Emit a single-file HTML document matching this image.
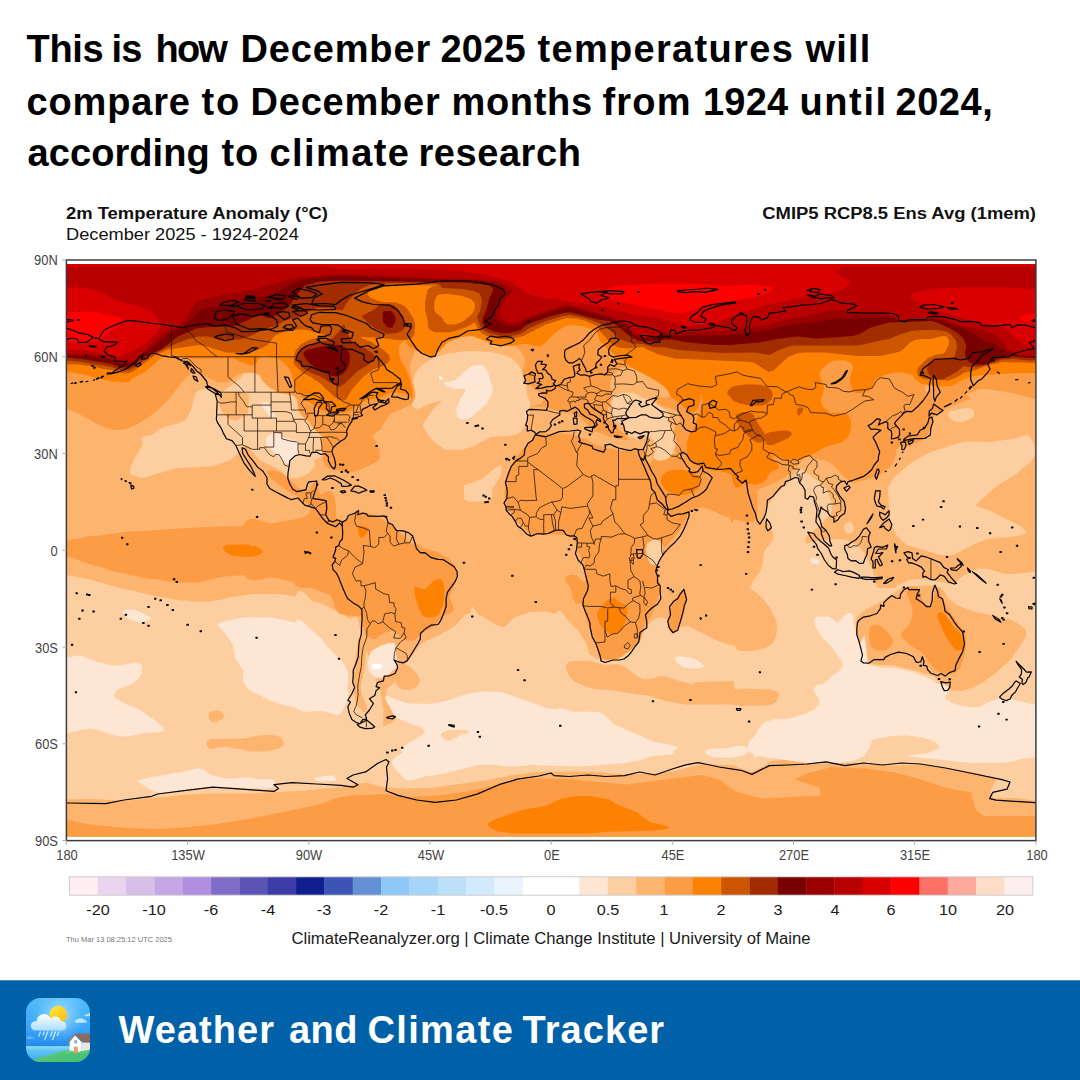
<!DOCTYPE html>
<html><head><meta charset="utf-8"><title>Weather and Climate Tracker</title>
<style>
html,body{margin:0;padding:0;}
body{width:1080px;height:1080px;position:relative;overflow:hidden;background:#fff;font-family:"Liberation Sans",sans-serif;}
.t{position:absolute;white-space:nowrap;}
#title{position:absolute;left:0;top:0;}
.fw{position:absolute;white-space:nowrap;font-weight:bold;font-size:38px;color:#fff;line-height:normal;}
.tw{position:absolute;white-space:nowrap;font-weight:bold;font-size:38px;color:#000;line-height:normal;}
.h1{font-weight:bold;font-size:16px;color:#111;transform:scaleX(1.15);}
.h2{font-size:16px;color:#111;transform:scaleX(1.138);transform-origin:0 50%;}
.ax{font-size:14px;color:#444;}
.cb{font-size:15.3px;color:#1a1a1a;transform:translateX(-50%) scaleX(1.06);}
#foot{position:absolute;left:0;top:980px;width:1080px;height:99px;background:#0060a8;border-top:1px solid #4d8fc2;background-clip:padding-box;}
#foot .ft{position:absolute;left:117.5px;top:27.5px;font-weight:bold;font-size:38px;color:#fff;white-space:nowrap;letter-spacing:0.94px;}
svg{position:absolute;left:0;top:0;}
</style></head><body>
<div id="title"><span class="tw" id="tw0_0" style="left:26.50px;top:27.98px;letter-spacing:-0.300px">This</span><span class="tw" id="tw0_1" style="left:111.50px;top:27.98px;letter-spacing:-0.900px">is</span><span class="tw" id="tw0_2" style="left:155.50px;top:27.98px;letter-spacing:-1.800px">how</span><span class="tw" id="tw0_3" style="left:240.50px;top:27.98px;letter-spacing:0.844px">December</span><span class="tw" id="tw0_4" style="left:440.50px;top:27.98px;letter-spacing:0.234px">2025</span><span class="tw" id="tw0_5" style="left:537.50px;top:27.98px;letter-spacing:1.318px">temperatures</span><span class="tw" id="tw0_6" style="left:805.50px;top:27.98px;letter-spacing:1.167px">will</span><span class="tw" id="tw1_0" style="left:26.50px;top:81.08px;letter-spacing:0.833px">compare</span><span class="tw" id="tw1_1" style="left:201.50px;top:81.08px;letter-spacing:1.900px">to</span><span class="tw" id="tw1_2" style="left:250.50px;top:81.08px;letter-spacing:0.786px">December</span><span class="tw" id="tw1_3" style="left:451.50px;top:81.08px;letter-spacing:0.660px">months</span><span class="tw" id="tw1_4" style="left:602.50px;top:81.08px;letter-spacing:1.167px">from</span><span class="tw" id="tw1_5" style="left:703.00px;top:81.08px;letter-spacing:0.234px">1924</span><span class="tw" id="tw1_6" style="left:799.50px;top:81.08px;letter-spacing:1.600px">until</span><span class="tw" id="tw1_7" style="left:895.50px;top:81.08px;letter-spacing:0.550px">2024,</span><span class="tw" id="tw2_0" style="left:27.50px;top:132.08px;letter-spacing:0.075px">according</span><span class="tw" id="tw2_1" style="left:221.50px;top:132.08px;letter-spacing:0.900px">to</span><span class="tw" id="tw2_2" style="left:269.50px;top:132.08px;letter-spacing:1.399px">climate</span><span class="tw" id="tw2_3" style="left:418.50px;top:132.08px;letter-spacing:0.558px">research</span></div>
<div class="t h1" id="ct1" style="left:66px;top:204.6px;transform-origin:0 50%;">2m Temperature Anomaly (°C)</div>
<div class="t h2" id="ct2" style="left:66px;top:225.9px;">December 2025 - 1924-2024</div>
<div class="t h1" id="ct3" style="right:44px;top:204.6px;transform-origin:100% 50%;">CMIP5 RCP8.5 Ens Avg (1mem)</div>
<div class="t ax" style="right:1022.0px;top:252.4px;transform:scaleX(0.92);transform-origin:100% 50%;">90N</div>
<div class="t ax" style="right:1022.0px;top:349.2px;transform:scaleX(0.92);transform-origin:100% 50%;">60N</div>
<div class="t ax" style="right:1022.0px;top:445.9px;transform:scaleX(0.92);transform-origin:100% 50%;">30N</div>
<div class="t ax" style="right:1022.0px;top:542.7px;transform:scaleX(0.92);transform-origin:100% 50%;">0</div>
<div class="t ax" style="right:1022.0px;top:639.5px;transform:scaleX(0.92);transform-origin:100% 50%;">30S</div>
<div class="t ax" style="right:1022.0px;top:736.2px;transform:scaleX(0.92);transform-origin:100% 50%;">60S</div>
<div class="t ax" style="right:1022.0px;top:833.0px;transform:scaleX(0.92);transform-origin:100% 50%;">90S</div>
<div class="t ax" style="left:67.0px;top:847.0px;transform:translateX(-50%) scaleX(0.92);">180</div>
<div class="t ax" style="left:188.2px;top:847.0px;transform:translateX(-50%) scaleX(0.92);">135W</div>
<div class="t ax" style="left:309.4px;top:847.0px;transform:translateX(-50%) scaleX(0.92);">90W</div>
<div class="t ax" style="left:430.6px;top:847.0px;transform:translateX(-50%) scaleX(0.92);">45W</div>
<div class="t ax" style="left:551.8px;top:847.0px;transform:translateX(-50%) scaleX(0.92);">0E</div>
<div class="t ax" style="left:672.9px;top:847.0px;transform:translateX(-50%) scaleX(0.92);">45E</div>
<div class="t ax" style="left:794.1px;top:847.0px;transform:translateX(-50%) scaleX(0.92);">270E</div>
<div class="t ax" style="left:915.3px;top:847.0px;transform:translateX(-50%) scaleX(0.92);">315E</div>
<div class="t ax" style="left:1036.5px;top:847.0px;transform:translateX(-50%) scaleX(0.92);">180</div>
<div class="t cb" style="left:97.7px;top:900.5px;">-20</div>
<div class="t cb" style="left:154.4px;top:900.5px;">-10</div>
<div class="t cb" style="left:211.1px;top:900.5px;">-6</div>
<div class="t cb" style="left:267.7px;top:900.5px;">-4</div>
<div class="t cb" style="left:324.4px;top:900.5px;">-3</div>
<div class="t cb" style="left:381.1px;top:900.5px;">-2</div>
<div class="t cb" style="left:437.8px;top:900.5px;">-1</div>
<div class="t cb" style="left:494.4px;top:900.5px;">-0.5</div>
<div class="t cb" style="left:551.1px;top:900.5px;">0</div>
<div class="t cb" style="left:607.8px;top:900.5px;">0.5</div>
<div class="t cb" style="left:664.4px;top:900.5px;">1</div>
<div class="t cb" style="left:721.1px;top:900.5px;">2</div>
<div class="t cb" style="left:777.8px;top:900.5px;">3</div>
<div class="t cb" style="left:834.5px;top:900.5px;">4</div>
<div class="t cb" style="left:891.1px;top:900.5px;">6</div>
<div class="t cb" style="left:947.8px;top:900.5px;">10</div>
<div class="t cb" style="left:1004.5px;top:900.5px;">20</div>
<div class="t" id="cred" style="left:551px;top:929.5px;font-size:16px;color:#1a1a1a;transform:translateX(-50%) scaleX(1.04);">ClimateReanalyzer.org | Climate Change Institute | University of Maine</div>
<div class="t" id="stamp" style="left:66px;top:935.4px;font-size:7.5px;color:#777;transform-origin:0 50%;">Thu Mar 13 08:25:12 UTC 2025</div>
<svg width="1080" height="1080" viewBox="0 0 1080 1080">
<defs><clipPath id="mc"><rect x="66.9" y="263.9" width="968.7" height="572.9"/></clipPath></defs>
<g clip-path="url(#mc)">
<rect x="60" y="255" width="990" height="600" fill="#fdb46e"/>
<path fill-rule="evenodd" d="M653 540L649 542L646.5 545.5L646.5 554L648.5 560L651 564L652.5 565L655 565L658.5 563.5L662 558.5L663 546L660 541.5L656.5 540ZM851 522L847 522.5L844 525L845 531.5L847 533.5L851.5 533L854 530.5L853 524.5ZM1057.5 584L1056 580.5L1053 577L1048 573.5L1044 572L1036 571.5L1013.5 574L1005 574L988.5 569L978.5 568.5L973 570.5L961 577L956.5 581.5L953 583.5L948 583.5L930 579.5L918.5 579L908.5 580L897 585.5L895 588L878 588L876.5 585.5L872.5 570.5L867 557.5L864 552.5L857.5 545L846 540L835 539L819 540.5L807 543.5L805.5 542.5L805.5 537.5L820.5 525L830 515.5L832 510L831.5 502L827 490L819 481.5L812.5 477.5L803.5 470L799.5 469.5L795.5 473L788 483L782 488L773.5 497.5L767 507L765 514L765 520L766 522.5L770 526.5L773 532.5L773.5 539L764.5 551L763.5 556.5L762.5 557.5L763 562.5L760.5 571L754 579.5L751 586L749 587.5L758 594L765 601L770.5 609L776 620L777 624L776.5 634.5L773 643L769.5 646L761 649L751.5 651L740.5 651L737 649.5L734 645.5L729.5 645L718 641L688 626L680.5 627L674.5 632.5L672 633L669 630L668.5 624L666.5 619.5L663.5 617.5L658.5 617L656.5 619L652 621L644 628.5L641 639.5L639 642.5L631 650L620.5 657.5L615.5 659.5L608 660.5L602.5 660L596.5 658.5L589 654L587 645L577.5 630L568.5 621.5L563 613.5L559.5 610.5L557.5 611L555.5 614L546.5 611.5L530 612L515.5 617L512.5 619L506.5 625.5L502.5 627L495.5 624.5L482 616L478.5 615L472.5 606.5L471.5 607L470.5 613L465.5 614.5L455 626L440.5 634.5L422.5 643L417 648.5L413 655L404.5 665L408.5 665.5L417 674L419.5 679L420 682.5L416 687.5L410.5 690L402 689.5L398 686.5L396.5 684.5L395.5 680L394 683L388.5 687.5L386 691.5L386.5 695.5L385 698.5L396 718.5L393.5 721.5L389.5 724L383 726.5L383.5 710L380.5 692L376 678.5L381 678L385.5 676L396 668L397.5 664.5L397.5 661L395.5 653.5L396 646L394 643L389.5 643L384 644.5L373 650L368.5 656.5L366.5 651L364.5 669L361 685L361.5 694L367 706L367 710.5L364 712.5L357 705L354 694.5L354 664.5L357 650L358 639.5L359.5 637.5L361.5 637L358.5 620L357.5 617.5L356 616.5L350 619L344 615L339.5 614L335 610L321 603.5L312 601L304 592.5L301.5 591L298.5 591.5L295 597L287 595L277.5 594L253.5 594L228 597.5L222 599.5L208.5 601.5L191.5 601.5L187.5 600.5L180.5 600.5L156.5 596.5L116.5 587L89.5 579.5L70.5 575.5L67 575.5L62 572.5L53.5 563.5L49.5 562L47.5 562.5L45 566.5L43.5 576.5L40 589.5L40 799.5L94 799L123.5 801L187.5 794.5L208 793.5L248 793.5L307 790.5L336 787.5L366 782.5L379.5 786.5L401.5 788.5L430.5 788L485 780.5L510 775.5L537.5 772L576.5 771.5L603 772.5L621.5 774.5L642.5 774L673.5 771.5L699.5 764.5L732 765L751 772L764 766L772.5 760.5L786.5 760L807.5 763L818.5 763.5L849.5 762.5L885.5 765.5L922 765L953.5 769L977.5 773L996.5 779.5L990 791L993.5 798L1017 798L1033.5 800.5L1059.5 800.5L1059.5 735L1052.5 734.5L1051 725.5L1051.5 720L1050.5 714L1046.5 709L1045.5 705.5L1045.5 591L1055.5 587.5ZM284 743L283 745.5L279 748.5L265.5 751.5L251.5 751.5L228 747L222 747L210.5 749L208.5 748L206.5 745L206.5 741.5L210.5 739L244.5 738.5L258.5 735.5L265.5 735L275.5 735.5L280.5 737L282.5 739ZM221 711.5L224 714.5L224.5 716.5L222 719.5L214.5 722.5L211.5 721.5L209 719L208.5 713.5L212.5 711L216.5 710.5ZM566 666L567 663.5L569 662L576 660.5L591 661L604 665L617.5 664L624.5 666.5L638.5 677L645 679.5L651.5 679L659.5 676L664 676L691 684.5L693.5 683L699 682L734 681L734.5 690L745 688.5L771.5 689.5L776.5 691L778.5 693L779 696L775.5 702.5L773 704L766 705.5L739.5 706L734 704.5L684 704.5L665.5 701L648.5 695.5L627 693L614 690.5L595 689L585.5 686.5L575 682L569.5 677L566 668.5ZM856 620.5L857.5 616.5L864 610.5L881 601.5L902 588L909.5 586L934 585.5L941 588L944 591L948 598L956.5 605L975 612L983 613L986.5 614.5L1010.5 619.5L1022 626L1025.5 629.5L1026.5 634.5L1024 640.5L1011 659L996 673L982.5 682.5L972.5 687.5L962.5 691L950 690.5L948 686.5L944.5 684.5L941 684L934 676.5L928 674L921.5 673L918.5 671.5L894 665.5L877.5 665L868.5 663.5L866.5 654L865 637.5L864 636L860.5 643.5L859.5 642.5L856.5 634.5ZM501 464.5L494 469L482 479L465 485L464 486L464 499L469 501.5L482.5 501.5L491 499.5L492.5 497L492 491L493.5 487L500.5 476.5L501.5 472.5ZM1030.5 437.5L1028 435.5L1025 435L1013 439L988.5 442L967 441.5L961 442.5L929.5 452.5L913 461.5L900.5 471.5L892.5 479.5L888 488L889.5 515.5L892 526L896 534.5L902.5 541.5L908.5 545.5L940 555L949.5 555.5L956 553.5L974.5 544L986.5 539.5L998.5 537.5L1011 537L1022.5 534.5L1025.5 533L1026.5 531.5L1020.5 526L990.5 511L977 506.5L976 504.5L997 486L1014.5 475L1031 461.5L1034.5 456L1035 449.5L1034 444ZM974 412L972.5 409L965.5 408L951 411L949 412.5L948.5 416L950.5 419L954.5 421.5L962 422L972 418L974 415.5ZM616.5 394.5L611.5 401L611 413L613 417L617 421.5L623.5 425.5L625.5 428L627.5 433.5L630.5 436.5L637 439L643.5 435L648 435.5L653 439.5L656 445.5L656 450L654 455.5L654 458.5L658 460.5L663 460.5L668.5 458L672.5 453.5L675.5 445L675 435L671.5 427L667.5 421L670 414.5L668.5 412L665.5 409.5L658.5 406L654.5 402L642 397.5L633.5 393L622 392.5ZM322 436.5L314 429.5L308.5 421.5L300.5 414.5L298 408.5L296.5 399L293 395.5L281 393.5L275.5 391.5L268 386.5L263 381.5L259.5 375.5L254 373L247.5 373L243.5 374.5L236 382L222.5 392L215.5 392.5L207.5 389L201 389L195.5 393L190.5 411L187 418L184.5 420.5L181 422.5L166 426.5L158.5 430L152 435L142.5 436.5L141.5 439.5L143 444L134 459L130 469L130 474L133 476L135.5 476L139 477.5L145.5 477.5L174 468.5L213.5 466L229.5 460.5L236 455.5L243.5 445.5L246.5 445L250 447.5L251 450.5L260.5 460.5L276.5 468L288 477L291.5 478L297 478L302.5 476.5L309.5 472.5L315 465.5L314 460L320 457.5L322 455.5L323 450L321 444.5L321 439ZM221.5 393.5L228 392L242 392L249 394L248 413L243.5 417L237 420.5L233.5 420.5L227 417.5L221.5 411L219 404L218 397.5L218.5 396ZM512.5 359L503 354.5L491 352L477 351L460.5 351.5L454 353L449.5 353L436 357L427 361.5L418 369L415.5 373L413 382L415.5 392L415.5 398L411.5 404.5L413.5 407L418 409L434.5 402L439.5 401L441.5 401.5L432.5 410L423 424L423 426.5L430 437.5L435.5 443L445 449.5L461 450L473 446.5L491 437L512 435.5L517.5 434L522 431L527.5 420.5L529.5 413L530 403.5L527 394L526 383L522 375.5L522 371L518.5 365Z" fill="#fdcfa0"/>
<path fill-rule="evenodd" d="M337 779.5L334.5 776L332.5 775.5L324 776L313.5 778.5L316 780.5L320.5 781.5L335 781ZM137 780.5L137 781.5L143.5 785L147 788L157 792.5L170.5 792.5L211.5 787L267 788.5L271 788L274 786.5L275.5 783L274 780L269.5 779L257 779L245.5 777L235 778.5L226 778.5L211 775L203.5 769.5L199.5 768.5L193.5 769L180.5 772.5L176 772.5L159.5 776L153 776.5ZM385 697.5L387 702.5L389.5 705.5L392.5 712.5L396 717.5L413 725L420.5 727L423 728.5L425 731.5L422.5 735L403 746.5L400.5 750L403 752.5L394.5 757.5L392 761L392 764L394 767.5L404.5 779L408.5 780.5L413.5 780L424.5 776.5L442.5 774L478 765L495 765L506.5 766.5L516.5 766.5L530.5 765L579 766.5L625 763L638.5 760.5L653 756L671.5 754.5L674.5 753L673.5 750.5L677 749L678 747.5L674 745.5L654.5 742L614 724.5L605 715L598.5 712L572 711.5L563 708.5L558 708.5L556.5 709.5L548.5 708.5L501.5 692L481.5 691.5L465 694.5L445 701.5L428 704L408 703.5L389.5 697L386.5 695L386 693L386.5 695.5ZM441 736L441 734L442.5 732.5L449.5 730L467 730L469 731.5L467.5 733L460.5 735L449.5 741L445 740ZM674.5 658L677 662.5L682.5 667L690 668.5L697.5 668.5L704.5 667L699.5 661.5L691 657.5L681 656.5L676 657ZM44.5 654.5L42 662L40 678L40 705L41 716L44 725L46 727.5L49 729L53 729.5L54 733.5L56 736.5L60 736L64.5 733.5L88 728.5L97.5 729.5L111 734.5L120 736.5L128.5 736.5L142.5 733.5L160.5 732L163.5 730.5L163.5 728L159 723.5L141 710.5L134 707L127.5 705L114 697L114 695L116.5 690L131 684.5L138.5 679L141.5 674L142 667L140.5 664L135 662.5L120 665.5L112 665.5L97.5 662L82 656L76 655.5L71.5 657L64 657L52.5 652.5L48 652.5ZM67.5 679L67.5 680L58.5 681.5L53 685L50.5 689L48.5 701L45 700.5L41.5 697.5L40 693.5L40 685L41.5 681L44 678.5L50 677L56 677ZM394 643L389.5 643L381.5 645.5L373 650L370 653.5L368 662L368.5 668.5L370.5 673.5L376.5 678L382.5 677.5L389 674L396 668L397.5 664.5L397.5 661L395.5 653.5L396 646ZM218.5 623.5L218 625L219 627L226.5 635L233 645L235 657.5L243.5 671L242.5 681L246 685.5L246 687L248.5 689.5L271.5 701L285 705.5L296 707.5L297 709L304.5 712L319.5 711L327 712L333.5 714.5L337.5 715L339.5 714.5L341.5 712.5L347 702L348.5 696L348.5 692.5L347 688.5L348 683.5L348 673.5L347 670L342 661.5L327 646L322.5 640L301.5 620.5L297.5 619L294.5 622.5L280.5 619L270 617.5L247.5 617L229 620ZM705 752.5L707 755L713 757L730 758L741.5 756L746.5 753.5L748.5 751L749.5 752.5L754 754.5L753.5 757L762 756L767.5 758L772.5 758L807.5 763L844 763L856 760L864 756L869.5 748L872 740.5L873.5 739.5L890.5 736L906 735.5L922.5 737.5L929.5 739.5L936.5 743L939.5 746.5L937.5 749L927.5 753L908 755.5L909 756.5L970.5 763L1005 762.5L1015.5 761L1022.5 758.5L1036 757.5L1045.5 754.5L1050 750L1052 745L1052.5 733.5L1051 725.5L1051.5 720L1050.5 714L1046.5 709L1045.5 703.5L1044 701L1042.5 701L1037 704.5L1033.5 704.5L1010 699L999 699L990 701.5L979 707L968.5 707L958 705L951.5 702.5L945 698L949.5 689L948 686.5L944.5 684.5L936 683.5L930.5 679L913 672L894 668L880.5 667.5L869 665L868 664L864.5 636L863.5 636.5L860.5 643.5L859.5 642.5L853.5 624L853 615.5L851.5 613L848 613L845.5 614.5L838 622.5L836.5 622.5L833 619L828 616.5L817 616.5L814.5 619L814.5 624.5L821 636L830 645L841 659.5L843 666L839.5 671L832 676L824 683.5L817 685L814 688L814 691.5L819.5 700L819.5 702.5L818 705.5L814 709.5L805.5 713.5L793.5 717.5L784 719L775.5 719L766 721.5L762.5 724L758 729.5L756.5 733.5L749.5 741.5L747 748L744.5 746L737 746L729 748L709 749L705.5 750.5ZM122.5 611.5L122.5 613L128 618.5L138.5 622.5L146.5 621.5L151.5 618.5L150.5 617L134 609.5L126 609.5ZM810 559.5L811 563L813 564L818 564L819.5 562L819.5 560L817 558.5L811.5 558ZM267 436.5L266 438L266 443L267.5 446.5L272.5 450.5L284.5 463L287.5 463.5L290 462.5L296 457.5L298.5 453L299 448L298 444L295.5 441L283 437L277 433L273.5 433ZM262.5 402.5L261.5 404.5L264 410L271.5 418.5L274.5 418.5L275.5 416L271.5 409.5L269 403L267.5 401.5ZM439 376L439.5 378.5L442 380L442.5 377.5ZM483.5 366L481 365L475 365L472 366L465 371L456 379.5L451 381.5L444.5 382L443.5 383L445.5 386L455 389L464 389L465 390L465 392L460.5 398.5L456 409.5L458 417L460 419L464 419.5L471.5 417L486 404.5L490.5 397L492.5 392L492.5 387L487.5 371.5Z" fill="#fee6d4"/>
<path fill-rule="evenodd" d="M371.5 667.5L374 669.5L379.5 669L382 666.5L382 665L379.5 664L372 664ZM439 376L439.5 378.5L442 380L442.5 377.5Z" fill="#ffffff"/>
<path fill-rule="evenodd" d="M1059.5 817.5L1039.5 816L983.5 816L975.5 809.5L971 792.5L945 787.5L919.5 779L895.5 772.5L865 768.5L831.5 767L806.5 773.5L794.5 779.5L818.5 787L820 789L820.5 795.5L762.5 798.5L735.5 791.5L719 779.5L701 775L626.5 784.5L566 779L531 778.5L507.5 781.5L482.5 788.5L463.5 792L437 795.5L408 797L382.5 794L352 795.5L334.5 798.5L323.5 803L305.5 807.5L252 818.5L214.5 824.5L184.5 827.5L156.5 829L126.5 828L89.5 824.5L68.5 820L40 820L40 859.5L1059.5 859.5ZM874 624.5L870 627L869 631L869 638.5L871 646L873.5 649L876.5 650.5L885 650.5L888.5 648.5L892.5 644.5L893 640.5L892 638L884 628.5L879.5 625.5ZM684.5 589.5L682 590L677.5 595L672 606L669 619.5L669 628.5L670 631L672 632.5L674.5 632L678.5 628L683 617.5L686.5 601L686.5 594ZM909 588L906.5 590.5L906.5 593L912 607L912.5 612.5L911.5 619L909 625L901.5 633L901 635.5L902 637.5L914 648L920.5 651.5L925 656L930 664L937.5 671.5L945 674L951.5 674L954.5 673L960 668L964 657L966 646L965.5 636.5L964 632L949 610.5L942.5 598.5L939 589.5L937.5 588L935.5 590L932.5 603L930 605.5L926.5 604.5L922.5 600.5L919.5 590.5L917.5 587.5L911 587ZM454 609L450 598L450 595L456 582L456.5 570.5L454 564.5L448.5 558.5L437.5 552L422 547.5L419 544.5L410.5 543.5L394.5 527L388 522L366.5 512.5L357.5 511L353 513.5L345.5 520L341.5 520L337.5 518.5L336 517L336 506.5L334.5 496.5L331.5 491.5L328 491L322 494L320 494L315.5 481L314 482L309.5 490L300 489L282 473L275 470.5L267.5 471L267 473.5L268.5 476L276 482.5L291.5 493.5L296 495.5L309 505.5L310 507.5L309.5 512L306.5 515.5L300 518.5L271 523.5L255.5 519L250 519L247.5 520L245 522.5L243.5 526L205 527L125 532L95.5 536L88.5 536L82 538L67.5 540L46.5 539L44.5 540.5L42.5 544.5L43 553.5L46.5 557L67 556L93.5 565.5L99.5 566.5L112.5 571L149.5 579L155.5 579L165 581L181.5 582.5L199 582.5L224 576.5L244.5 575L247.5 579L253 580.5L259.5 580L268.5 577.5L273.5 577.5L293.5 582L295.5 585.5L298 587L303.5 588L310.5 587.5L331 595.5L334 602.5L335 608.5L339.5 613.5L347.5 615.5L362 616.5L363 626.5L364.5 631.5L367 635.5L372 639L375 639L379.5 635.5L385.5 632.5L393.5 630.5L395 631L402.5 639L408 641L414.5 640.5L421 633.5L434.5 626L443 615L445.5 615L451 613L453 611.5ZM40 240L40 394.5L42.5 400L46 413L49 416.5L54.5 415.5L63.5 409L67 409L74 411.5L104.5 427.5L114 430L122.5 430L129.5 428L139.5 423L154.5 413L169 399L185 378.5L195 370L196.5 370L200 374L218.5 382.5L226 382.5L231 381L235 376L243 372.5L254 372.5L259.5 375L263.5 381.5L271 388.5L281 393L293 395L297 399L298.5 408.5L301 414.5L309 421.5L314.5 429.5L322.5 436.5L321.5 439L321.5 444.5L323.5 449.5L322.5 452.5L322.5 458.5L325 465.5L328.5 468.5L333.5 470.5L339 470.5L344.5 472.5L351 472.5L361 469.5L375.5 462.5L379 459.5L380 457.5L379.5 449L372.5 435.5L380.5 429.5L387.5 417.5L391.5 413.5L410 405L412 403.5L415 398L415 392L410.5 374L410 366.5L411 361.5L415 351.5L416 350.5L430 357.5L433 357.5L448 342L462.5 336.5L472.5 336L489 342.5L504 346L511 346L514.5 345L520.5 350.5L525 358.5L525 362L522.5 370.5L523 377L528 383.5L537.5 390L541 393.5L543 398.5L543 401.5L541.5 403.5L531 406.5L530 407.5L534 406.5L546.5 407.5L560 411.5L569.5 412.5L580.5 418L595 431.5L616.5 438.5L631 440.5L629 439.5L615.5 425.5L612.5 423.5L608 417L607.5 409.5L612.5 398L612 393L610 387L610 382.5L613.5 374L618 369.5L623 367.5L633 368L651.5 378L663 385.5L667 389.5L670.5 396L667 397.5L663 397.5L655 395L657 402L661.5 406L674.5 409.5L678.5 414L680 418.5L679 423L675 427L673.5 430.5L676 438L676 445L674.5 449.5L676.5 453.5L672.5 454L666.5 460L658 461L653.5 458.5L650 463L649.5 467.5L644 456L642.5 451L643 448L632 451L622.5 451L601 446.5L595.5 444.5L582.5 437.5L583 438.5L582 439L579 436.5L573.5 435L562 433.5L538.5 433.5L534.5 434L537 435L528.5 443L515.5 457.5L508.5 470.5L506 479L504.5 491.5L504.5 498.5L506 504.5L517.5 522.5L528.5 532.5L534.5 535L543.5 535L549 534L566 534.5L571 536.5L578 545.5L577 549.5L583.5 562.5L586 571L586 580.5L584 582.5L576.5 575.5L572.5 574.5L566.5 576L565 577.5L565 579.5L570 587L573 598.5L576 603.5L581 603.5L583 606L587.5 623L595.5 641.5L598.5 655.5L600.5 658L606.5 660L615.5 659L620.5 657L631 649.5L638.5 642.5L641 638.5L644.5 626L647 621L650 617.5L656.5 604L660 591L660 583L657.5 574L657.5 566.5L658.5 564L655 565.5L652.5 565.5L649 562L646 554L646 545.5L647 543.5L653 539.5L656.5 539.5L660 541L663.5 546L663 556.5L665.5 551.5L664 549.5L664.5 548L679 532L687 518.5L688 512.5L693.5 511.5L700 507.5L704 507.5L712.5 510.5L721 515L730 517.5L731.5 523.5L734 519L746.5 522.5L753 522L755 520L757.5 513L757.5 491L760 489L778.5 481L785 477L799 464.5L803 459.5L807.5 456.5L810 456.5L814.5 459L822.5 460L828.5 462L833 465L846 478.5L852 482.5L858 482L875.5 477L885.5 471L892 465L895 458L896.5 449.5L898.5 447L911.5 445.5L921.5 440.5L926.5 436L932 427L933.5 418L937 414L949.5 406.5L969 399.5L970.5 397L965 395L978 389.5L985 389L1005 391.5L1051 403.5L1058 403.5L1059.5 402.5L1059.5 240ZM925 391L925.5 385L934.5 386.5L932.5 387.5L929 392L926 392Z" fill="#fc9c45"/>
<path fill-rule="evenodd" d="M487 824L489.5 827.5L498.5 831.5L514 833.5L587 833.5L605.5 832L654.5 830.5L664.5 829.5L670 827.5L665.5 825.5L651 822.5L643 817.5L638 812.5L617.5 804.5L608.5 799L589 796L575.5 796L560.5 799L545.5 806L520 810.5L494.5 819.5ZM939 612.5L937 615L937.5 618L946 637L952 646L956.5 650.5L961 650.5L963 647L963 640.5L960.5 634L951.5 624L944.5 614L941.5 612ZM611.5 597.5L607 600.5L599.5 608.5L597 613L597 616L600 624.5L605 630.5L610 634L617 634L619.5 633L623.5 627.5L627 615.5L627.5 607.5L626 605L619 602L615 598ZM440.5 578.5L434.5 580L425.5 589L424 589.5L414 586.5L414.5 594L418.5 607.5L422 614.5L426 617.5L432.5 617.5L437 615.5L439.5 613.5L442.5 606.5L444 600.5L444.5 589L443 581.5ZM223 546.5L223.5 549.5L227 553L233 556L248.5 557L259.5 555L262.5 552.5L262.5 550.5L260 548.5L255 546L252 546L248.5 544.5L226.5 545ZM359 526L358 527L358.5 534.5L360 537.5L362 538L366 534.5L369 529L365 526.5ZM661 477L661 483L663 487L666.5 490.5L675.5 495L684 495L693 492.5L697.5 489L700.5 484L700.5 479L698.5 475.5L691.5 472L683 470L672 470L665.5 472.5ZM40 240L40 381L41 381.5L47 380L62 372.5L68.5 372L81.5 374L111.5 381.5L127 382.5L129 382L132 378.5L144 372.5L162 357.5L169.5 355L179.5 355.5L193 358.5L232 358L250.5 365.5L254.5 365L257.5 362L260 356L262 355.5L277.5 358.5L284 362.5L290.5 370.5L296 388.5L298.5 393.5L302.5 397.5L316.5 407L326.5 412L336 414L344 412.5L352 409.5L356.5 405.5L367 400L379 398L392 392.5L402.5 393L407 394.5L411.5 398L412.5 397.5L412.5 391.5L409.5 377.5L404.5 366L401.5 362L399 353.5L399 347.5L400 344.5L405 340L406.5 340.5L406.5 343.5L409 346.5L430 357.5L433 357.5L448 342L462.5 336.5L472.5 336L489 342.5L504 346L511 346L522 344L528 344L534.5 346L540.5 346L543 345L549 338.5L559.5 329.5L565.5 326L569 325L582.5 326L596 331L598.5 335L598.5 339L607 348.5L619.5 359L634 369L651.5 378L663 385.5L667 389.5L671 397L679.5 403L688 411L691.5 412.5L695.5 411L698.5 406.5L701 395.5L702 395.5L702.5 402.5L699.5 413.5L694.5 426.5L689 435.5L687 441L687 454L690 459.5L694.5 464L702 468.5L708.5 470L720.5 471L731.5 474.5L733.5 484L735.5 487.5L738 487.5L744 483.5L749 483.5L756 485L763.5 482L766 479.5L770.5 472L777.5 469L779 467.5L777.5 463L772 457L776 456L787.5 460L797.5 459.5L812.5 454.5L820.5 449.5L829.5 445.5L841.5 442.5L847 438L849 435L851 429L851 421L849.5 417L847.5 414.5L844.5 413L831 413L824 408L821 402.5L821 398L823.5 392L824 387L820.5 379L819.5 373.5L821.5 369.5L826.5 364.5L834 360.5L844.5 360.5L850 362.5L852.5 365L853 368.5L850 377L850 382.5L852.5 390L856 393L861.5 393L869.5 390.5L872.5 387L874 381L878 377.5L886 374.5L895.5 372.5L903 372.5L909.5 374.5L912.5 374.5L915 379L921.5 384L938.5 386.5L951 386L964.5 379L976 375.5L1020 373L1041.5 373L1055 380.5L1058.5 381.5L1059.5 381L1059.5 240Z" fill="#fd8204"/>
<path fill-rule="evenodd" d="M736 415L736.5 421L741 428.5L748 436L756.5 442.5L761 442.5L765 440L766 444L768 445L773 445L788.5 438L791.5 435L791.5 432.5L787.5 430.5L781 430.5L768.5 432.5L764.5 434.5L764 432.5L755.5 419.5L753.5 414.5L751 412.5L742.5 412ZM803 407.5L799.5 407.5L797.5 409L797 413L798 415.5L799 415.5L802.5 412L803.5 408.5ZM727.5 391L727.5 394L733.5 401L740 403.5L750 405.5L762 405.5L766.5 404L771.5 399.5L773 395L771.5 390.5L769 388L765 386L757 384.5L745.5 384.5L734.5 386L731 387.5ZM40 240L40 364L77.5 364.5L94.5 366.5L101 368.5L113.5 370.5L118 372.5L127.5 373.5L133 371.5L155.5 355L168 349.5L199 345L205 346L226 352.5L245 353L256.5 350.5L266 346L269 343.5L274.5 336L279.5 333.5L290 330.5L299.5 329.5L307.5 330L326 335.5L310 339.5L300.5 344.5L296 350L294 355.5L293.5 362.5L295 365.5L303 373L310 376.5L321 384L335 397.5L338.5 399.5L343.5 400.5L346.5 399L351.5 390L363.5 376.5L373 369.5L384.5 365.5L389 361.5L390 359.5L389 355L383 349.5L370.5 341.5L361 338L361 337L382 338L396 340L406 340L412 338L414.5 334L415 324.5L413.5 318.5L407.5 309L404 305.5L395.5 302.5L382.5 302L377 300.5L370 297.5L367.5 295L368 292.5L371 289.5L376.5 287L387 285.5L401 285L437 285.5L432 286.5L427.5 290L425 302L425 310L427.5 319.5L428 327.5L430 330L434 332L448.5 332.5L453.5 331.5L465.5 327.5L475 322.5L478.5 330L483 334L487 336L500 339L512.5 339L523.5 336L544.5 325L566 318L576 318.5L584.5 320.5L597 326L599.5 330.5L612 344.5L619 347.5L627 348.5L643.5 347L647 349.5L658.5 354.5L675 358.5L751.5 362L754.5 363L768.5 372L773.5 370.5L788 357L796.5 353.5L805.5 352.5L824.5 352.5L857.5 356L880.5 356L898.5 352L902.5 350L910 342.5L914.5 340L921 339L931 339L942.5 336L947 336.5L949 341L948.5 345L945.5 352L942.5 354L936 354.5L927 358.5L918 368L917 371L918 376L924 379L948.5 380.5L955.5 378L965 372.5L976 370L987 365.5L1003 362L1059.5 363.5L1059.5 240ZM434.5 301.5L436 297L438.5 294.5L447 294L460.5 295.5L471 299L474.5 302.5L475 307.5L472.5 313.5L463 321.5L455.5 324.5L447.5 324.5L444 321.5L442 317.5L435 312L434 307.5Z" fill="#cc5500"/>
<path fill-rule="evenodd" d="M344 323.5L338.5 332L332 338.5L328.5 340.5L316.5 342.5L306 346L302.5 348L296 355.5L296 359L297.5 362L303.5 368.5L314 374.5L317 375L324 378.5L330.5 383L339 387L345 383.5L357.5 371L366.5 366L372 362L375 358.5L374.5 355.5L371.5 352.5L363 347L354 343.5L352 341.5L347 332.5ZM362 316L362.5 317.5L370.5 325L375.5 328.5L387 334L397 333L401.5 331L404.5 328.5L404.5 320.5L402.5 315L395 306L391.5 304.5L382 304.5L378.5 305.5L375 309ZM40 240L40 360.5L67 360.5L82 362L111.5 367L123 370.5L129 370L135.5 366.5L150.5 356L168 347L186.5 339.5L198.5 336.5L206 336.5L227 339.5L239 339.5L243.5 338.5L254 334.5L262.5 329.5L275 326L286 320.5L296 317.5L317.5 307.5L330.5 308L342.5 310.5L346.5 303L355.5 293L360.5 289L368 285.5L378.5 283.5L401 283L437.5 283.5L440 285L442 288L463 289L473.5 291L479.5 293.5L481.5 298L481.5 303.5L480 311L477 317L480 326L484 330.5L488.5 333L501 336L510.5 336L517.5 334.5L524 332L529.5 328L543.5 322L562.5 316L569.5 315L583 317.5L599 323L610 330L617.5 337.5L622 340L632.5 343.5L643.5 344L654 347L666 347.5L678.5 350L722.5 353L754.5 352.5L769.5 355L780 349.5L792 345.5L858.5 345.5L890 338.5L901 334L911.5 331L921 330L937 330L946 331.5L950 333.5L956 340.5L957 348L954.5 357L935.5 359.5L930 363L927.5 366L927 370L928.5 373.5L931 377L936.5 379.5L943 379.5L956.5 372L964 366L968 367L978.5 367L1002.5 359.5L1014.5 359L1029 360.5L1059.5 360.5L1059.5 240Z" fill="#a02c00"/>
<path fill-rule="evenodd" d="M304 352L303.5 355L310 364L321 371L332.5 376L336.5 376.5L342 374.5L346 370.5L349.5 363L350 356L348.5 351.5L345 347.5L339.5 345L331 345L316.5 347.5L307 350ZM384 311L382.5 313L383 321.5L387 327L392 328L395.5 321.5L395.5 317.5L393.5 313.5L391 311ZM40 240L40 357.5L61.5 357L82 359L111.5 364L120.5 367.5L127 367.5L134.5 364L140 359.5L162 349L177 337L196 328.5L209 327L235.5 326L253 317.5L259.5 316L262.5 316L268 318L272 317.5L288 307.5L299.5 291L305 285.5L319.5 281.5L339.5 280.5L465.5 282.5L488.5 285L492.5 287.5L493 291L490 296.5L485.5 312.5L483 317.5L482.5 323L484.5 326.5L487 328.5L493.5 331.5L501.5 333L509 333L516 331.5L521.5 329.5L525.5 325.5L531 323L551.5 316L565.5 312.5L571 312.5L598 319.5L609 321L618 326L627 334L638 340.5L643 341.5L655.5 341.5L664 339.5L673 339.5L684 342L715 345L731.5 345L759 342.5L776.5 339L797 336.5L817 338.5L852.5 336L859.5 334L869.5 328L888.5 322.5L931.5 321L938.5 323L950 328.5L959 334L963 338L966 344.5L966 349L965 351L966 358.5L969 362L973 364L983.5 365L989.5 363L997 359L1007 356L1028.5 358L1059.5 358L1059.5 240Z" fill="#780000"/>
<path fill-rule="evenodd" d="M40 240L40 355.5L73.5 355L79 356L88.5 356L112.5 360L121.5 363.5L129.5 363.5L132.5 362.5L142.5 354L150.5 349L167.5 334.5L183.5 326.5L202 309L231 304L256.5 297.5L267.5 296L275 293L290 284.5L304.5 279L330.5 276.5L353.5 276.5L411 279L477.5 280.5L493 282.5L499 285.5L505 291L500.5 298L496 308.5L495.5 318.5L501 323.5L508 326L517 325.5L529 319L564 307.5L572 307.5L610 318L621.5 323.5L625.5 326.5L633.5 335L639 337.5L644.5 338.5L657 337.5L663.5 334L675 335.5L726.5 335.5L760 331.5L788.5 325L812.5 322.5L835.5 318.5L851 319L860 317.5L887 317L894 318L897.5 320L915 320.5L934.5 318.5L964 329L973.5 333.5L986 342L992 342.5L1004 350L1015 354.5L1023.5 356L1059.5 356L1059.5 240Z" fill="#9a0000"/>
<path fill-rule="evenodd" d="M40 240L40 354.5L91 354.5L108.5 357L121.5 361.5L129 362.5L132 361.5L136 358.5L164 332.5L179.5 326L186 318.5L194.5 304L196.5 302L201 300L226 294L250.5 290.5L288 279.5L303.5 276.5L311.5 276.5L330 274.5L349.5 274.5L436.5 278.5L478 279.5L482 280.5L494.5 281L500.5 282.5L509.5 286.5L512.5 290L512 292.5L504.5 300.5L500 310L500 315L502 318.5L505.5 321.5L509.5 323L518.5 322.5L528.5 317L538 314L541.5 312L563 305.5L569 305L609 316L619 320L625 323.5L628.5 326.5L630.5 330.5L633.5 333.5L641 336.5L649 337L656.5 336L663 331.5L679.5 333.5L685.5 332L725.5 331L747 328.5L755.5 326.5L762.5 326L785 320L807.5 316L827 311L841 310L887.5 314.5L894 316L897 318.5L902 320L921.5 319.5L931.5 317.5L938.5 318L959.5 325L975.5 328.5L993.5 334L1002 341.5L1009 350.5L1015.5 353.5L1024 355.5L1059.5 355.5L1059.5 240Z" fill="#b90000"/>
<path fill-rule="evenodd" d="M1059.5 351.5L1059.5 284.5L1037 289L1009 287.5L958 287.5L938 288.5L920.5 291L912.5 293.5L910 295.5L910.5 297.5L914.5 301L932 310L950 314L970.5 321L1003 327.5L1006 329L1014 337L1023 344L1027.5 346.5L1039.5 348L1052 351.5ZM40 283.5L40 354.5L47 354L64.5 350L78 350L95.5 351.5L111 355.5L120 356L137 349L145.5 343.5L155.5 334.5L160 328L160 324L154.5 314.5L149.5 310.5L140.5 306.5L117 301L100.5 292L91 289L75 287.5L48.5 287ZM40 240L40 267L328.5 267L340.5 269L400.5 268.5L442 269.5L464.5 271L473.5 273L478 273L509.5 281L525 292L533 295.5L548 298.5L553 298.5L578 303L598.5 305.5L632.5 314L657 318L687.5 326L697 325.5L716 322.5L724.5 320L727.5 318L744 312L768.5 304.5L797.5 298.5L824.5 294.5L836.5 291.5L845.5 287.5L850 283L850 281.5L848.5 280L840 276L835 272L835.5 271L838.5 270L841 267L1059.5 267L1059.5 240Z" fill="#d80000"/>
<path fill-rule="evenodd" d="M1059.5 313L1029 314L1021.5 316L1020 317L1020 319.5L1022.5 321L1030 322.5L1046 324L1059.5 324ZM40 343.5L44.5 344L65 341.5L77 342.5L90 342.5L95 341.5L102 338.5L113 329.5L121.5 324L123.5 321.5L122 319L117 316.5L98.5 312.5L86 311.5L60.5 312.5L48 310.5L40 310.5ZM602.5 294.5L608 298.5L621.5 302.5L632 304L653 309L657 309L670 312.5L682.5 313L691 311L708 304.5L732.5 301.5L754 297.5L768 293L772.5 290.5L773.5 289L771.5 287L751.5 284.5L722 286L695.5 283.5L650.5 283.5L614.5 286L605 290L602.5 292.5Z" fill="#ff0000"/>
<path d="M219.1 392.2L294.8 392.2L295.8 391.3L296.4 393.2L300.7 393.5L304.7 395.5L310.1 395.5L313.4 394.5L322.8 399.0L323.6 400.3L326.3 401.9L329.0 404.2L329.5 410.0L329.0 412.9L327.4 414.8L329.0 415.8L333.0 414.2L338.4 412.2L338.4 410.6L339.2 409.7L344.3 409.7L345.7 407.7L349.2 405.1L358.6 405.1L360.5 403.9L361.8 401.0L364.8 397.4L367.2 397.7L368.6 398.7L368.6 402.9L369.6 404.5L370.7 405.5M171.4 325.8L171.4 355.8L176.8 356.8L180.9 360.0L183.5 358.4L187.6 358.4L191.6 361.6L195.7 366.4L201.1 369.7L201.1 372.9M235.8 445.5L242.3 444.8L252.2 449.3L259.8 449.3L259.8 447.7L264.3 447.7L269.7 454.8L273.8 456.8L275.7 454.2L279.2 454.8L283.2 461.6L284.5 465.1L289.4 466.8M302.9 503.5L303.4 501.3L304.2 498.7L307.4 498.4L306.1 494.8L306.1 492.9L310.9 492.9L310.9 499.0M310.9 492.9L313.4 490.6M311.7 499.0L310.7 503.9L308.5 506.1M310.7 503.9L312.8 505.1L314.7 507.1M315.5 508.4L318.2 505.8L322.2 503.5L327.1 501.9M320.4 514.5L325.7 515.1M327.6 523.5L328.7 519.3M176.8 356.8L295.8 356.8M183.5 328.1L191.6 334.2L195.7 340.6L203.7 345.5L210.5 351.9L217.2 356.8M228.0 356.8L228.0 376.8L233.4 381.6L238.8 385.8L242.3 389.7L244.1 392.2M254.9 356.8L254.9 392.2M276.5 356.8L278.1 392.2M294.8 392.2L294.8 380.0L311.5 366.8M337.1 384.2L337.1 397.1L343.8 401.9L350.5 404.2M276.5 356.8L276.5 343.2L249.5 339.0L226.6 331.6L225.3 326.1M377.4 355.8L378.8 361.6L378.8 369.7L370.7 372.9L373.4 382.6L380.1 382.6L397.4 382.6L397.4 384.5M364.8 397.4L369.4 395.5L373.4 395.5M378.8 401.9L378.3 402.6M217.2 401.3L220.4 403.2L225.3 402.9L230.7 401.9L236.1 401.9M216.7 414.8L252.2 414.8M236.1 392.2L236.1 401.9L236.3 403.2L236.1 407.4L236.1 414.8M228.0 414.8L228.0 424.5L242.5 437.4L242.5 444.8M244.1 414.8L244.1 431.0M257.6 418.1L257.6 449.3M244.1 431.0L296.4 431.0M238.8 392.2L238.8 395.5L242.8 400.3L246.8 406.8L252.2 406.8M252.2 405.1L271.1 405.1M252.2 405.1L252.2 418.1L276.5 418.1M271.1 392.2L271.1 418.1M271.1 401.9L291.0 401.9M271.1 411.6L285.9 411.6L291.3 413.2M276.5 421.3L294.5 421.3M276.5 418.1L276.5 431.0M296.4 424.2L296.4 432.6M273.8 431.0L273.8 432.6L281.8 432.6L281.8 438.7L289.9 441.0L296.7 441.9M273.8 432.6L273.8 447.1L264.1 447.1M298.0 442.2L298.0 450.3L298.8 453.5M298.0 443.9L305.5 443.9M296.4 432.6L308.8 432.6L310.1 432.6L331.1 432.2L346.7 432.4M303.4 399.7L301.0 403.5L305.5 410.0L305.5 413.2L308.2 415.5L305.8 419.3L305.0 421.6L308.2 425.1L310.1 430.0L310.9 431.0L310.1 432.6L308.8 437.4L305.5 443.9L305.5 450.3L309.6 450.3L309.6 452.9M289.4 392.2L291.0 401.9L291.3 410.0M291.3 410.0L305.5 410.0M293.2 419.3L305.0 419.3M291.3 413.2L292.9 417.4L293.2 419.3L294.5 421.3L296.4 424.2M307.2 413.2L314.7 413.2M315.5 415.8L315.5 423.5L314.2 428.1M310.9 431.0L314.2 428.1L315.5 428.1L319.5 427.7L322.8 424.2L327.6 425.5L329.0 426.4L333.0 422.9L334.4 419.3M322.8 415.8L322.8 424.2M316.9 415.6L326.5 415.7M334.4 414.5L334.4 422.2L347.0 422.2M336.2 414.8L348.4 414.8L350.0 416.8L348.9 419.0L349.2 421.6L347.8 422.6M337.1 423.9L341.9 423.5L343.8 426.1L345.7 427.7M329.0 426.4L331.1 430.0L334.9 429.3L340.3 423.2L341.9 423.5M324.1 437.4L329.5 436.8L333.0 437.1L333.6 438.1L336.5 438.1L339.7 441.0M308.0 437.4L324.1 437.4M313.6 437.4L313.1 447.4L313.1 452.9M320.6 437.4L321.7 444.5L322.2 450.3M315.2 450.3L322.2 450.3L322.5 451.3L329.8 451.9L331.7 451.3M326.8 437.4L329.8 441.6L333.0 446.8M353.7 405.1L353.7 412.6L353.2 418.1M358.6 405.1L355.9 412.6M353.7 412.6L359.9 412.2M353.2 414.8L358.9 414.8M359.9 404.2L360.8 411.3M355.9 513.2L354.6 521.3L356.4 526.1L362.6 527.7L369.4 530.3L369.9 539.0L370.7 546.4M388.2 522.9L386.9 527.7L386.3 531.3L387.7 533.5M370.7 546.4L374.8 547.7L378.8 544.2L378.8 537.4L384.2 537.4L387.7 533.5M387.7 533.5L390.1 535.8L390.1 542.2L393.6 546.1L399.0 544.2M397.1 530.9L396.3 539.0L399.0 544.2L404.4 542.9M405.7 531.6L405.2 539.0L404.4 542.9L409.8 542.9L412.2 536.8M370.7 546.4L363.2 545.5L364.0 551.9L362.6 563.8M362.6 563.8L355.1 557.7L348.4 550.6L343.8 549.0L338.9 545.8M348.4 550.6L347.8 555.1L341.6 560.0L339.7 565.5L334.9 561.3M362.6 563.8L355.1 567.1L352.4 573.8L355.9 580.9L361.0 580.9L361.0 585.8L364.0 585.8M364.0 585.8L365.9 590.6L365.3 598.0L364.0 602.6L364.0 606.7L361.8 609.3M364.0 585.8L368.0 584.8L375.3 582.6L375.6 589.0L384.2 593.8L388.8 594.8L389.6 602.6L394.1 602.9L394.1 606.1L396.0 608.4L395.0 614.2M395.0 614.2L391.7 612.6L384.7 613.8L382.8 621.9M382.8 621.9L378.0 623.8L375.6 621.6L372.6 620.6L370.2 623.8M370.2 623.8L367.5 619.6L366.7 613.2L364.0 606.7M370.2 623.8L366.9 629.3L366.7 637.4L363.2 647.1L361.8 656.7L361.3 666.4L359.4 676.1L357.8 685.8L358.1 695.5L356.4 705.1L353.7 711.6L356.4 714.8L362.6 718.0M395.0 614.2L395.5 621.6L401.1 622.6L402.0 627.7L404.9 628.0L404.1 632.9M382.8 621.9L389.6 627.7L395.8 631.9L393.6 638.0L400.3 638.4L404.1 632.9M404.1 632.9L406.3 638.0L400.9 641.6L396.0 647.7M396.0 647.7L400.6 650.3L405.7 653.2L407.3 655.8L407.3 659.0M396.0 647.7L394.4 653.5L393.9 660.0M366.4 720.0L366.4 727.4M545.8 437.1L546.3 445.5L541.5 448.0L537.7 453.5L527.7 457.7L527.7 462.2M527.7 461.0L516.1 461.0M527.7 462.2L527.7 466.4L518.8 466.4L518.8 474.8L516.1 476.1L516.1 481.6L505.4 481.6M527.7 462.2L538.2 469.7L533.6 469.7L536.1 497.1L536.9 500.3L525.6 500.6L520.2 500.3L518.3 502.6M518.3 502.6L513.4 496.8L506.7 498.7M538.2 469.7L554.4 482.2L559.8 486.4L562.5 488.7M562.5 488.7L567.3 486.4L583.2 474.5M583.2 474.5L576.7 465.5L577.8 453.5L576.7 452.9M576.7 452.9L573.5 445.5L571.3 441.3L573.2 437.4L574.3 431.3M576.7 452.9L578.9 448.0L582.1 443.2M618.5 448.0L618.5 485.8L615.8 485.8L615.8 487.4L594.0 474.8L591.5 476.1L589.4 477.4L583.2 474.5M618.5 479.3L650.5 479.3M591.5 476.1L592.9 482.6L592.9 495.8L587.5 503.5L587.5 506.1M587.5 506.1L578.1 507.4L570.0 508.4L561.9 506.8L560.8 512.6M562.5 488.7L562.5 497.1L560.6 500.3L553.8 501.9L551.7 501.9M551.7 501.9L557.1 510.0L560.8 512.6M551.7 501.9L545.8 504.5L539.6 507.7L536.3 513.2L536.3 516.8M536.3 516.8L529.6 517.4L527.7 514.8L520.4 510.3L518.3 502.6M543.9 533.8L543.6 525.1L543.9 519.7L543.6 514.8L551.2 514.5M554.4 530.6L552.5 522.9L551.2 514.5L553.6 514.8M558.4 529.7L558.7 521.3L560.8 512.6M555.5 530.3L555.5 521.3L553.6 514.8L557.1 510.0M536.3 516.8L539.0 519.0L543.9 519.7M531.0 536.1L528.5 529.3L528.5 525.8L525.8 526.4L523.4 522.9L520.2 527.7M515.3 521.3L517.5 518.4L521.0 518.0L522.6 520.9L523.4 522.9M529.6 517.4L528.5 525.8M514.3 509.3L520.4 510.3M510.8 514.8L514.3 512.6L514.3 509.3L506.2 510.3M505.9 506.4L513.4 506.4L513.4 507.7L505.9 508.0M574.0 535.8L576.7 529.3L582.1 528.4L586.2 519.7L589.4 513.9L589.4 510.0L587.5 506.1M589.4 510.0L592.9 518.0L588.9 518.0L592.9 526.1M592.9 526.1L601.2 524.2L602.3 521.3L611.7 514.8L612.8 513.5M615.8 487.4L615.8 499.7L612.8 499.7L610.4 508.4L612.8 513.5M654.8 492.2L650.8 495.5L649.4 504.2L648.6 509.3L643.3 515.5L643.3 522.9L640.0 524.8L646.2 532.9L647.8 535.5M649.4 504.2L656.2 502.9L661.6 506.8L665.3 510.0M665.3 510.0L663.7 514.8L667.0 514.8L667.5 513.2M667.0 514.8L667.0 519.7L672.3 522.9L680.4 524.5L672.3 534.2L664.3 536.8L661.6 537.7M647.8 535.5L653.5 538.7L657.5 539.0L661.6 537.7M661.6 537.7L661.6 550.3L662.9 555.8M642.7 536.8L644.1 546.8L642.7 549.7L642.7 553.5M642.7 553.5L652.4 560.0L656.7 565.5M634.6 538.4L634.4 542.9L631.1 547.7L630.9 554.8M634.6 538.4L642.7 536.8L647.8 535.5M601.2 539.0L601.2 536.4L611.7 537.1L618.5 534.2L624.9 533.8M624.9 533.8L630.6 536.1L634.6 538.4M612.8 513.5L615.0 522.2L619.0 526.1L624.9 533.8M584.0 569.0L586.2 565.1L589.9 566.1L594.0 563.2L594.8 557.4L598.8 551.9L599.6 543.8L601.2 539.0M592.9 526.1L590.2 530.9L591.5 537.4L594.2 543.2M577.5 542.9L587.0 543.2L594.2 543.2L594.2 544.8M581.0 562.9L582.9 558.0L584.8 557.4L588.9 558.0L589.9 554.5L588.6 550.3L589.9 547.1L587.0 546.4L587.0 543.2M594.2 543.2L595.6 539.0L601.2 539.0M577.5 547.1L581.6 547.1L581.6 543.2M584.0 569.0L586.2 569.3L595.9 569.3L596.9 573.8L603.4 576.1L609.9 573.8L609.9 580.9L610.9 586.4L615.8 585.8L615.8 592.2M615.8 592.2L610.4 592.2L610.4 602.6L614.2 607.1M582.9 605.8L588.9 606.4L601.0 606.4L607.7 608.0L614.2 607.1L619.0 607.7M607.7 609.3L607.7 621.3L605.0 621.3L605.0 630.3L605.0 641.9L596.9 642.9L595.6 642.6M605.0 630.3L607.2 637.1L612.0 634.2L617.7 633.2L620.9 630.0L623.9 626.4L630.3 621.9M619.0 607.7L621.2 613.2L625.7 616.4L630.3 621.9L635.4 622.6M619.0 607.7L623.9 608.0L628.7 603.5L633.0 600.6M633.0 600.6L639.8 604.2L640.0 611.6L638.7 618.0L635.4 622.6M635.4 622.6L637.3 629.3L637.3 636.7L639.8 637.1M634.6 633.8L637.3 634.2L637.3 638.0L634.6 638.0L634.1 635.8L634.6 633.8M624.1 645.8L627.9 642.6L630.3 645.1L627.9 649.0L624.7 648.0L624.1 645.8M615.8 585.8L621.2 588.7L625.2 589.7L629.2 593.5L631.4 593.5L631.4 589.7L627.9 588.4L627.9 580.3L634.1 576.7M634.1 576.7L639.8 580.6M639.8 580.6L640.8 585.8L639.8 593.8L640.6 595.5L632.5 598.0L633.0 600.6M640.6 595.5L644.1 597.1L647.6 601.9L646.2 605.5L643.8 602.9L644.1 597.1M642.7 580.9L644.3 587.4L645.1 593.8L644.1 596.4M645.1 587.4L652.1 588.0L659.9 584.2M630.1 560.9L630.3 564.8L630.9 570.6L634.1 576.7M630.9 554.8L633.3 553.8L634.1 558.0L633.3 560.0L630.1 560.9L629.2 559.0L630.9 554.8M633.3 553.8L642.7 553.5M634.1 558.0L631.9 558.0L630.1 560.9L633.3 564.5L633.3 560.0M527.5 415.1L533.6 415.1L532.6 420.6L532.3 422.2L531.0 430.3M546.3 410.3L553.0 412.2L559.8 413.5M571.3 409.0L570.0 404.8L569.7 402.2M569.7 402.2L567.6 401.3L569.7 397.4L571.6 396.8M571.6 396.8L573.2 392.2L568.4 390.6M568.4 390.6L564.1 389.0L558.2 385.5M560.3 384.5L567.0 385.8L567.3 386.4M567.3 386.4L567.3 382.9L570.3 381.9L570.5 378.4M567.3 386.4L568.4 390.6M571.6 396.8L577.0 397.1L579.4 399.0L579.2 400.3L576.2 400.6L575.4 402.2L573.8 401.0L570.0 402.2M579.2 399.3L584.0 398.7L588.0 400.3L588.0 403.2M577.0 397.1L586.2 397.1L585.6 394.8L588.3 392.9M588.3 392.9L583.7 388.1L591.0 385.8M591.0 385.8L589.4 376.4M574.3 373.2L577.8 373.5M591.0 385.8L596.7 387.7L601.8 390.6L612.0 391.9M588.3 392.9L591.5 392.2L596.9 393.5L596.7 395.5M596.9 395.5L594.5 399.0M596.9 395.5L601.8 396.1L606.4 393.9L610.9 394.2M596.9 393.5L601.8 390.6M594.5 399.0L595.9 400.6L601.8 402.2L605.8 401.6L612.8 395.5M612.8 395.5L618.2 396.4L622.8 394.5L627.1 403.5L631.1 404.2M612.3 407.7L618.5 409.3L623.9 408.1L628.2 409.3M605.8 401.6L608.8 404.5L612.3 407.7M612.3 407.7L611.5 413.9L613.1 417.1L617.1 416.4L622.2 415.8M622.2 415.8L626.6 414.8M622.2 415.8L621.2 419.0M605.0 422.2L607.7 418.7L613.1 417.1M603.4 415.1L606.4 414.2L606.6 418.1L607.7 418.7M588.0 403.5L592.4 403.5L595.9 400.6M593.7 404.5L602.3 405.5L603.4 410.0L601.0 413.2L594.8 408.4L593.7 404.5M602.3 405.5L602.6 402.2M603.4 410.0L606.4 411.6L606.4 414.2M606.4 411.6L611.5 413.9M604.5 374.8L612.6 374.8M612.6 374.8L614.4 376.4L615.5 380.3L614.7 384.2L615.8 387.4L612.0 391.9L610.9 394.2M607.7 369.3L615.8 368.7L622.8 370.6M614.4 376.4L620.6 375.5L622.8 370.6M616.6 363.5L624.9 364.8M622.8 370.6L627.1 369.0L625.7 365.5L624.9 364.8L625.2 360.3L626.6 358.4M627.1 369.0L634.4 371.0L636.8 376.8L636.8 382.2M614.7 384.2L623.9 383.9L633.3 384.8L636.8 382.2M636.8 382.2L642.7 381.6L647.0 387.7L653.5 389.3L658.9 390.3L658.3 395.8L654.0 398.4M622.8 394.5L627.1 395.2L629.8 397.1L631.9 400.6L627.1 403.5M612.6 374.8L612.3 372.9L608.2 371.9M581.9 360.0L584.8 352.6L583.7 345.5L589.7 340.0L595.3 332.6L599.9 329.3L606.4 327.4M606.4 327.4L615.0 331.3L615.8 338.1M606.4 327.4L620.4 327.1L626.3 324.2L629.2 327.4M629.2 327.4L627.9 330.3L631.9 331.9L629.5 334.5L632.2 338.4L631.1 341.3L633.3 343.2L636.0 347.4L626.0 354.8M629.2 327.4L634.1 325.2M531.5 372.6L529.3 374.5L534.2 375.8M658.9 410.3L667.0 412.6L676.4 415.1L681.8 415.5M663.2 416.4L668.3 417.7L672.3 417.1L676.4 415.1M668.3 417.7L668.8 421.0L671.8 422.2L670.5 426.4L671.8 430.3M672.3 417.1L676.4 424.8L680.4 422.9L682.8 426.4M671.8 422.2L676.4 424.8M648.1 434.8L650.0 431.6L653.5 431.6L661.0 430.6L665.3 430.6L671.8 430.3M671.8 430.3L675.0 434.8L673.7 440.6L679.9 447.7L681.8 453.5M665.3 430.6L662.1 438.1L655.6 442.6M655.6 442.6L650.3 446.1L647.3 444.8M645.7 443.5L647.8 442.6L649.7 440.0L648.1 438.7M655.6 442.6L656.7 446.8L650.8 448.7L653.5 451.9L652.1 453.5L648.1 456.1L645.4 455.5M647.3 444.8L646.8 449.0L645.4 455.1M643.3 449.3L645.1 455.1M656.7 446.8L659.9 447.4L664.5 450.0L671.5 456.1L676.4 456.4L679.1 453.5L680.4 453.5M676.4 456.4L679.6 458.4L681.5 458.4M666.4 497.4L667.5 494.2L670.7 494.2L676.1 494.8L679.1 495.5L683.4 490.3L691.2 489.0L699.3 485.8L701.2 479.3L699.8 477.1L692.8 476.4L690.1 472.2M691.2 489.0L694.2 496.8M699.8 477.1L702.0 472.6L702.8 469.7M688.0 470.6L689.0 471.0M696.3 430.0L700.3 427.4L705.2 426.8L710.8 429.3L716.0 432.2M716.0 432.2L714.3 439.7L715.2 448.7L717.6 449.0L715.2 453.9M715.2 453.9L717.3 457.7L721.4 462.6L721.4 464.5L717.0 469.0M715.2 453.9L719.5 455.5L729.7 453.9L730.8 449.7L737.8 447.4L740.5 442.6L742.6 440.3L744.0 433.2L749.1 431.3L752.9 430.3M716.0 435.5L720.8 434.5L724.9 433.2L730.2 429.7L734.3 431.0L738.3 429.0L739.7 426.1L743.7 427.7L744.0 431.9L749.1 429.7L752.9 430.3M692.5 415.5L696.6 413.9L702.0 417.1L702.0 405.1L709.0 403.5L715.4 407.1L718.1 410.0L725.9 409.3L729.2 411.6L730.2 417.4L734.5 418.7L737.0 416.8L742.4 413.9M702.0 417.1L704.9 417.1L709.0 412.2L712.7 414.2L712.7 417.4L717.9 417.7L719.5 421.3L725.1 424.8L730.2 429.7M742.4 413.9L749.1 411.6L751.2 411.0L755.3 411.9L764.4 412.2L767.1 414.2M767.1 414.2L767.4 405.1L773.3 404.5L774.7 398.1L781.4 398.4L781.9 394.2L786.3 391.9M786.3 391.9L780.6 389.0L777.4 386.8L766.9 386.4L760.7 378.4L748.8 376.4L742.9 375.2L737.0 371.9L727.5 374.2L715.4 376.4L716.8 384.8L711.4 387.1L699.3 386.1L689.8 384.2L688.0 383.5L681.8 387.1L677.5 389.3L676.4 394.2L680.4 396.1L683.1 400.3M767.1 414.2L761.2 418.1L758.0 418.4L750.4 421.3L749.4 422.9L752.9 430.3M734.3 431.0L734.3 424.8L737.8 420.6L741.0 420.6L742.4 420.6L749.4 422.9M737.0 416.8L741.0 420.6M786.3 391.9L792.7 389.3L798.9 386.8L805.9 389.0L812.9 389.7L815.9 387.4L815.3 382.6L826.1 384.5L826.6 387.1L838.0 388.1L843.3 391.3L849.3 391.9L855.5 390.3L865.4 389.7M787.6 391.9L789.5 394.5L793.5 395.8L795.9 404.5L803.0 405.5L808.1 407.7L810.8 412.6L825.3 413.2L833.9 416.1L846.0 413.2L852.5 409.3L857.1 406.1L864.9 401.0L873.8 399.7L868.4 396.4L862.5 395.8L865.4 389.7M865.4 389.7L872.2 388.1L876.5 380.6L880.5 377.7L889.4 379.0L894.5 388.1L902.9 392.6L908.0 396.4L913.9 394.5L909.6 404.8L906.1 404.2L903.9 405.5L904.7 410.3L902.9 413.5M902.9 413.5L900.7 411.6L895.9 414.8L892.9 415.5L885.9 421.6M890.7 428.7L896.9 425.8M734.8 473.9L742.4 471.0L739.7 464.8L740.5 460.0L747.2 456.8L751.8 450.3L751.8 444.5L749.9 439.7L758.0 435.5L760.7 435.8M752.9 430.3L755.8 434.2L760.7 435.8L763.9 439.7L763.4 445.5L763.1 449.3L769.3 452.9M766.9 457.4L769.3 452.9L773.3 453.5L777.4 456.8L782.8 460.0L788.4 460.3L788.4 465.1L782.2 464.5L777.4 461.9L772.0 460.3L766.9 457.4M790.6 462.2L792.7 459.3L797.8 460.3L798.9 463.5L793.3 464.2L790.6 462.2M788.4 460.3L790.6 462.2M797.8 460.3L804.3 456.8L810.0 455.5L813.2 459.3M813.2 459.3L807.5 466.1L804.6 473.2L802.4 472.9L801.9 478.7L800.5 481.3L799.7 483.2M788.4 465.1L793.0 466.4L793.0 468.7L799.7 469.3L797.0 472.9L797.0 475.8L799.7 474.5L800.5 481.3M789.5 465.5L788.4 469.0L788.4 471.0L790.3 471.9L790.0 475.1L790.8 479.7M813.2 459.3L817.0 461.6L817.0 467.1L814.0 470.6L814.0 473.2L817.8 475.8L819.1 476.4L818.3 479.0L820.5 481.0L823.7 481.9M823.7 481.9L820.7 484.8L815.1 486.8L813.5 490.6L816.7 497.4L815.6 501.6L818.3 507.7L819.4 512.2L817.0 517.4M820.7 484.8L821.8 487.4L823.7 487.4L823.1 493.2L826.1 491.6L829.3 490.9L833.1 494.2L833.4 497.7L835.5 500.0L835.3 503.9M835.3 503.9L828.5 504.2L827.2 506.4L828.3 512.6M826.4 478.0L828.5 483.2L832.8 484.5L831.5 487.1L834.5 490.0L838.0 495.5L840.9 501.3L840.7 502.9M823.7 481.9L826.4 478.0L831.0 477.4L834.7 475.1L838.5 476.8L838.2 479.3L842.0 481.0M835.3 503.9L840.7 502.9L840.9 510.6L836.1 512.9L837.2 515.5L832.6 516.8M820.7 529.3L823.4 531.9L826.1 530.3M846.3 543.8L848.7 547.4L852.2 547.1L853.3 545.5L857.4 546.1L860.6 542.9L862.2 538.7L862.2 536.4L867.6 536.8M930.9 558.7L930.9 579.7M885.4 580.6L887.8 580.3L888.1 579.7" fill="none" stroke="#1a1005" stroke-width="0.75" stroke-linejoin="round"/>
<path d="M98.7 338.7L104.1 330.0L112.2 326.1L123.0 321.9L129.7 320.3L141.8 321.9L152.6 323.5L163.4 324.5L171.4 325.8L182.2 327.7L187.6 326.4L198.4 324.5L206.4 323.5L214.5 326.1L225.3 325.2L236.1 328.1L241.4 331.6L254.9 331.3L260.3 330.3L268.4 329.3L276.5 331.6L287.2 330.0L292.6 330.3L296.7 326.1L292.6 319.7L298.0 318.1L302.0 322.9L306.1 326.1L311.5 327.7L314.2 331.0L319.5 332.6L320.9 326.1L330.3 325.5L331.7 329.3L330.3 334.2L324.9 336.4L318.2 336.4L319.5 342.3L314.2 343.9L307.4 345.5L302.0 348.7L298.0 353.5L295.8 360.0L300.7 361.6L302.0 366.4L308.8 366.4L314.2 368.1L322.2 371.3L329.0 372.2L330.3 379.3L334.4 384.2L338.4 384.2L338.4 376.1L337.1 372.9L343.8 369.7L345.1 364.8L341.1 361.0L341.1 355.2L342.4 349.0L351.9 349.3L359.9 352.9L364.0 354.2L364.0 360.0L368.0 362.6L373.4 360.6L376.1 355.8L378.8 358.4L384.2 364.8L386.9 369.7L392.3 372.9L396.3 376.1L400.3 379.3L400.9 382.6L397.6 384.2L392.3 388.1L384.2 388.4L376.1 388.4L370.7 391.3L365.3 395.5L359.9 399.0L364.0 397.7L372.1 392.2L378.0 392.6L376.1 395.5L377.4 398.7L378.8 401.9L385.5 402.9L386.9 404.2L381.5 406.1L374.8 410.0L372.9 407.7L377.4 403.5L370.7 405.1L366.7 407.4L362.6 409.3L360.8 413.2L362.6 415.5L358.6 416.8L352.4 418.7L351.9 421.3L349.2 425.1L346.5 431.0L347.3 434.8L345.1 438.4L341.1 441.0L337.1 443.9L333.0 447.7L331.9 451.9L334.4 458.4L335.7 464.8L334.4 469.0L331.7 467.1L328.4 461.0L328.4 456.8L324.9 453.5L320.9 454.5L316.9 452.2L311.5 452.6L310.1 456.1L306.1 455.8L299.3 454.5L295.3 455.8L289.9 460.6L289.1 466.4L288.0 472.9L287.8 478.4L289.9 484.2L292.6 489.0L296.7 491.6L302.0 490.6L306.1 489.7L307.4 484.2L308.8 481.9L316.9 481.0L316.9 485.8L314.7 492.2L312.8 498.7L319.5 499.3L326.3 500.9L326.8 508.4L325.7 514.8L329.0 520.6L333.0 521.9L337.1 519.7L342.4 522.2L342.4 526.1L339.7 522.9L335.7 526.8L331.7 525.1L327.6 523.5L322.2 518.0L320.1 514.8L315.5 508.4L311.5 507.1L304.7 505.1L298.0 498.0L291.3 499.7L284.5 496.4L276.5 492.2L269.7 488.4L267.0 484.2L267.0 477.7L263.0 471.3L257.6 467.1L253.6 461.6L248.2 455.1L245.5 449.3L242.0 447.7L242.8 453.5L246.8 460.0L250.9 466.4L254.1 472.9L255.2 476.4L249.5 470.3L244.1 463.2L241.4 457.4L238.8 451.9L235.8 445.5L232.0 440.6L226.4 438.7L223.1 432.6L221.3 428.4L217.7 422.9L216.4 419.7L216.7 411.6L217.2 401.3L215.3 394.2L219.9 394.8L221.3 397.4L221.0 392.9L219.9 392.2L214.5 389.0L207.8 385.8L206.4 381.0L201.1 374.5L197.0 371.3L193.0 366.4L187.6 361.6L182.2 361.0L175.5 357.4L168.7 356.8L162.0 355.8L155.3 353.5L149.9 353.5L147.2 358.4L141.8 359.3L143.2 354.2L137.8 358.4L136.4 362.3L129.7 366.4L124.3 369.7L117.6 372.2L110.8 373.9L116.2 369.7L124.3 364.8L127.0 361.0L123.0 361.6L114.9 361.0L114.9 356.8L108.1 355.2L104.1 351.0L106.8 347.1L113.5 345.5L117.6 342.3L112.2 341.9L104.1 341.9L98.7 338.7M354.6 298.1L368.0 291.3L384.2 285.8L416.5 284.2L443.4 281.0L470.4 281.0L491.9 284.8L502.7 289.0L505.4 293.9L500.0 298.7L498.6 305.2L494.6 310.0L491.9 316.4L485.2 321.3L490.6 323.9L481.1 329.3L467.7 331.0L459.6 335.8L448.8 338.4L442.1 342.3L438.0 348.7L435.3 356.1L430.0 356.8L421.9 353.5L416.5 348.7L411.1 340.6L407.1 334.2L411.1 327.7L404.4 322.9L403.0 318.1L397.6 310.0L389.6 305.2L373.4 304.5L362.6 301.9L354.6 298.1M486.5 339.0L490.6 336.1L497.3 337.4L505.4 336.4L511.3 337.4L514.5 340.6L510.8 342.9L501.3 345.8L494.6 344.5L490.0 343.9L491.9 341.3L486.5 339.0M342.4 522.2L346.5 519.7L348.4 515.5L354.6 513.2L358.6 510.6L357.8 514.8L362.6 513.2L366.7 514.2L368.0 516.1L373.4 516.1L378.8 516.4L384.2 515.8L386.9 518.7L388.2 522.9L392.3 524.5L396.3 530.3L403.0 530.9L408.4 532.6L412.5 535.8L415.2 543.8L416.5 548.7L420.5 552.9L424.6 552.6L431.3 557.7L438.0 559.3L443.4 559.7L448.8 563.2L454.2 566.8L456.9 571.3L457.4 576.1L455.5 580.9L451.5 586.7L447.5 592.2L446.1 598.7L446.1 606.7L443.4 614.2L440.7 620.6L438.0 624.5L431.3 625.1L425.9 628.4L420.5 633.5L420.3 639.0L417.8 643.8L413.8 650.3L409.8 656.7L407.1 660.9L403.0 662.9L397.6 661.6L394.1 660.0L397.1 664.8L397.6 668.0L395.0 673.5L389.6 675.8L384.2 676.1L383.4 680.9L377.4 682.5L376.1 686.7L379.6 687.7L376.1 690.6L374.8 695.5L369.4 698.7L373.4 703.5L369.4 710.0L365.3 714.8L366.7 719.0L362.6 719.6L359.9 723.8L355.9 722.2L351.9 719.6L349.2 713.2L347.8 706.7L350.5 701.9L347.8 700.3L351.9 693.8L354.6 687.4L352.7 682.5L353.2 676.1L353.2 670.3L355.6 664.8L358.3 656.7L358.6 648.7L359.1 642.2L361.3 634.2L361.6 626.1L362.1 618.0L361.8 609.3L358.6 606.1L353.2 602.9L347.8 598.7L345.7 594.8L343.2 589.0L340.6 582.6L338.4 576.7L336.2 572.9L333.0 569.7L332.2 564.8L334.9 561.3L335.7 558.4L333.0 557.4L334.4 553.5L335.7 549.7L335.7 547.1L338.9 545.5L339.7 542.2L342.4 539.0L342.7 532.6L342.4 527.7L342.4 522.2M366.7 720.0L374.8 726.7L372.1 728.4L365.3 728.7L359.9 727.1L357.2 724.5L361.3 722.9L366.7 720.0M386.9 717.4L392.3 715.8L395.5 716.7L392.3 719.0L386.9 718.0L386.9 717.4M535.3 434.8L545.8 436.8L551.2 434.8L559.2 431.6L570.0 431.0L578.1 430.0L580.8 431.3L578.6 435.8L580.2 440.6L578.6 441.6L582.1 443.2L586.2 444.2L592.1 446.1L592.9 448.7L598.3 450.6L603.7 452.2L605.5 448.7L605.0 445.1L610.4 444.2L614.4 446.4L618.5 448.0L625.2 449.7L630.6 450.6L634.6 448.7L638.1 449.7L638.7 453.9L641.4 460.6L644.1 466.4L646.8 472.9L649.4 478.7L650.8 482.6L651.6 489.0L654.8 492.2L657.5 500.3L661.6 503.5L665.6 508.4L667.8 510.0L667.5 512.9L671.0 516.4L677.7 514.2L683.1 513.9L689.0 511.9L689.0 516.4L686.6 522.9L683.1 530.9L680.4 535.8L675.0 542.2L669.6 547.1L664.3 552.9L661.6 556.8L658.9 561.6L657.0 566.4L655.6 571.3L657.5 576.1L657.5 582.6L660.2 585.8L660.2 592.2L660.8 598.7L657.5 604.2L652.1 607.7L648.1 611.6L645.4 614.8L646.8 621.3L646.8 627.7L640.0 632.6L639.5 637.4L638.7 642.2L634.6 647.1L631.9 651.3L627.9 656.1L623.9 659.0L619.8 660.0L613.1 660.0L605.0 662.5L601.0 660.9L600.2 656.1L598.3 650.3L595.6 642.9L592.4 637.4L590.2 627.7L589.9 622.9L587.5 616.4L584.8 610.0L582.9 605.1L583.5 598.7L587.5 590.6L588.3 585.8L586.7 579.3L584.3 569.7L582.9 564.8L578.1 560.0L575.4 553.5L576.7 548.7L577.3 542.2L576.7 537.4L574.0 535.8L570.0 536.1L566.0 534.8L563.3 530.3L557.9 530.0L553.8 530.9L548.5 533.5L543.1 534.2L537.7 533.5L531.0 536.1L526.9 534.2L521.5 528.7L517.5 526.1L515.3 521.3L512.1 516.4L510.2 514.8L506.2 510.3L505.9 506.8L504.0 502.9L506.7 498.7L507.3 492.2L506.7 487.4L505.4 482.6L508.1 474.5L511.3 466.4L516.1 460.6L520.2 458.4L524.2 455.1L525.0 448.7L528.3 442.9L532.3 440.6L535.3 434.8M683.9 589.3L686.6 599.7L684.5 605.1L683.1 611.6L680.4 621.3L677.7 630.3L672.9 632.6L669.1 627.7L667.8 621.3L670.5 614.8L669.6 606.7L673.7 601.3L677.7 598.7L680.4 593.8L683.9 589.3M536.1 434.2L534.2 431.9L531.2 430.3L527.2 431.0L527.5 426.1L525.6 425.1L527.2 420.6L527.7 415.5L526.4 411.6L529.6 409.3L536.3 409.7L541.7 410.0L546.3 410.3L547.9 406.1L547.9 401.9L545.2 398.4L539.0 395.8L538.5 393.9L543.1 392.9L546.8 393.2L546.3 390.0L547.9 391.0L551.7 390.6L555.2 388.4L555.7 386.1L560.6 384.5L562.5 381.9L564.1 379.3L568.7 377.7L573.2 377.1L574.8 376.1L574.3 371.3L573.2 366.4L577.5 364.8L579.7 364.2L578.9 368.1L580.2 369.7L577.5 371.9L577.5 373.5L580.8 375.2L584.8 374.8L589.4 376.4L595.6 374.5L601.0 373.9L604.5 374.8L607.7 372.2L607.7 367.1L609.9 364.5L614.4 366.4L616.9 363.9L614.4 359.3L621.2 358.4L626.6 357.7L631.9 357.1L627.9 355.2L621.2 355.5L613.1 357.1L609.1 354.8L608.5 350.3L610.4 346.4L617.1 341.6L619.3 339.3L615.8 338.1L610.4 338.7L608.5 342.3L602.3 346.4L598.3 349.7L597.7 354.5L601.8 357.1L599.6 360.0L596.1 363.2L595.6 367.4L593.4 369.0L589.7 371.3L586.2 371.6L585.6 368.7L582.9 363.9L581.3 360.3L579.4 358.4L576.7 360.6L572.7 362.9L568.7 362.9L566.0 360.3L564.6 356.8L564.6 351.9L565.4 349.7L570.0 347.4L574.6 345.2L579.4 342.9L583.5 339.7L586.2 336.8L588.9 333.5L592.9 330.3L596.9 327.7L602.3 325.2L609.1 323.9L614.4 322.3L620.4 321.0L626.6 321.3L633.3 323.5L634.6 325.2L640.0 326.4L648.1 327.4L658.9 331.3L662.4 334.2L658.9 336.8L653.5 336.8L645.4 335.5L640.0 335.5L642.7 338.1L644.9 342.3L650.8 344.2L653.5 342.6L660.2 341.9L658.9 339.0L664.3 336.1L669.6 336.8L669.6 333.2L671.0 329.7L675.0 330.3L676.4 334.2L680.4 331.9L685.8 330.6L693.9 330.0L697.9 330.3L704.7 329.0L710.0 328.1L714.1 327.1L714.1 325.2L723.5 326.8L728.9 327.7L731.6 329.3L735.6 330.3L737.0 327.7L731.6 323.5L731.6 320.3L737.0 315.5L739.7 314.2L746.4 315.5L746.9 319.7L746.4 325.2L745.1 330.0L746.4 335.5L750.4 332.6L749.1 327.7L750.4 321.3L753.1 316.4L759.9 317.4L761.2 320.3L767.9 317.4L769.3 313.2L777.4 312.3L785.4 311.0L782.8 307.7L790.8 306.8L801.6 305.2L812.4 304.5L820.5 303.5L831.2 299.7L836.6 301.0L840.7 303.2L852.8 303.9L856.8 305.8L847.4 310.6L847.4 312.3L855.5 312.6L868.9 313.2L882.4 312.9L893.2 313.5L898.6 316.4L898.6 320.3L903.9 321.9L909.3 319.7L917.4 319.7L925.5 319.7L928.2 316.8L936.3 316.4L944.3 317.1L955.1 319.4L960.5 321.6L971.3 321.3L979.3 322.6L982.0 325.5L987.4 325.8L995.5 326.1L1003.6 325.2L1010.3 324.5L1011.7 327.7L1017.0 325.2L1025.1 325.2L1030.5 326.4L1035.9 328.1L1038.6 328.4L1038.6 340.3L1035.9 340.0L1033.2 341.6L1029.2 342.3L1033.2 347.1L1034.0 348.7L1022.4 351.0L1014.4 353.5L1009.0 356.8L999.5 357.4L992.8 357.4L990.1 361.6L987.4 363.9L990.1 369.0L987.4 372.9L982.0 378.7L978.0 381.0L973.2 385.8L970.7 379.3L970.7 372.9L971.8 366.4L976.7 362.3L982.0 355.2L990.1 351.0L992.8 348.7L982.0 351.9L972.6 352.6L968.6 358.4L960.5 360.0L953.8 358.4L941.6 359.0L934.9 359.3L928.2 364.8L922.8 368.7L920.1 375.2L925.5 376.1L930.9 378.7L929.5 384.2L929.5 390.6L926.8 395.5L922.8 401.0L917.4 406.8L912.0 411.6L906.6 411.3L903.4 413.5L900.7 416.4L895.9 421.3L894.5 423.5L899.4 429.3L899.6 434.2L898.6 437.1L894.5 438.4L891.3 439.0L891.8 434.2L891.3 431.0L887.8 428.4L887.8 422.9L885.9 421.6L879.7 424.2L878.4 425.1L880.5 419.7L877.0 418.7L871.6 423.9L868.1 425.5L871.1 429.3L875.7 429.0L881.0 430.3L877.0 433.2L873.0 437.4L875.7 442.2L878.4 448.7L879.7 451.9L878.4 456.8L878.4 460.0L874.3 464.8L871.6 469.7L867.6 473.5L863.5 476.4L858.2 478.4L852.8 480.3L848.2 481.6L846.8 484.8L844.7 481.0L840.7 481.9L836.6 485.8L836.1 489.7L839.8 496.1L844.2 501.3L845.5 508.4L844.7 513.2L840.1 516.4L838.0 519.7L833.9 522.2L833.9 518.0L829.9 515.8L827.2 511.6L823.1 509.3L821.0 506.8L820.5 510.0L818.6 516.4L820.5 521.3L821.8 526.8L825.8 530.3L829.3 535.8L829.9 541.3L831.8 545.8L829.6 545.8L824.0 540.9L821.5 534.2L821.0 529.3L817.8 524.5L815.9 521.9L816.4 516.4L817.0 510.0L814.5 501.9L813.7 497.1L809.7 496.1L807.8 499.3L805.1 498.0L805.1 490.6L803.0 486.4L799.4 482.6L798.4 478.0L794.9 477.4L790.8 479.7L785.4 481.6L784.6 485.1L780.9 486.8L776.8 491.6L772.5 496.8L767.4 500.3L766.9 506.8L766.1 512.2L764.4 517.1L761.7 521.3L759.9 524.2L757.2 520.6L755.3 513.2L752.6 507.4L750.4 500.3L748.3 493.9L747.2 487.4L746.7 482.6L745.9 480.0L742.4 483.2L737.0 478.4L738.3 476.8L735.1 473.9L732.7 471.0L730.2 468.4L724.9 469.0L718.1 469.3L711.4 468.4L706.0 467.4L703.8 463.2L697.9 464.2L693.9 462.9L689.8 460.0L687.1 455.1L683.1 452.2L680.4 454.2L681.8 458.4L684.5 462.2L686.6 465.8L689.8 469.0L689.3 471.9L693.9 472.6L697.9 471.6L702.0 466.1L703.3 471.3L708.7 474.2L712.2 477.7L708.7 484.2L706.5 489.0L702.8 492.6L698.7 495.5L692.0 498.0L685.8 501.9L679.1 506.1L672.3 509.0L668.3 509.7L666.4 503.5L665.6 497.1L661.6 490.6L657.0 483.2L655.6 477.7L651.6 471.3L649.4 466.4L645.9 460.0L644.9 455.5L643.5 460.3L640.0 457.4L638.7 453.9L638.1 449.7L643.3 449.3L645.1 445.5L647.0 440.6L648.1 434.8L648.6 431.9L644.9 431.9L640.0 433.9L634.6 431.6L631.9 433.5L627.9 431.9L624.7 431.0L623.9 426.1L622.5 422.9L621.7 421.3L625.2 419.7L629.2 417.7L636.0 417.4L641.4 414.8L645.9 414.8L649.4 417.1L654.8 418.1L660.2 418.1L663.2 416.1L662.9 413.2L658.9 410.0L654.8 407.1L651.6 404.5L654.3 401.3L657.0 398.1L652.1 398.7L646.2 401.0L646.2 404.2L649.4 404.5L645.4 405.8L641.4 406.8L638.7 403.9L641.4 401.9L636.0 400.0L633.3 401.3L631.1 404.2L628.4 408.4L626.6 411.0L625.7 413.2L627.1 416.1L629.2 417.7L625.2 418.7L621.7 418.7L617.1 418.4L615.0 420.3L612.6 420.0L613.9 423.9L613.6 426.8L615.8 427.7L613.6 429.3L613.1 432.6L611.2 432.6L608.5 429.0L608.2 425.8L605.5 422.9L603.4 418.7L603.7 415.5L600.4 412.9L595.0 409.7L591.5 406.8L589.7 404.5L588.0 403.2L584.3 404.2L584.5 407.7L588.0 410.3L589.7 413.9L594.2 415.5L600.4 420.0L600.7 421.6L596.9 419.7L595.9 422.6L597.2 424.8L594.2 427.7L593.4 427.1L594.8 424.5L592.9 421.0L589.7 419.0L585.4 416.8L580.8 413.2L578.9 410.0L575.4 407.1L571.3 409.0L567.3 411.3L563.3 410.3L559.8 411.0L559.8 415.1L556.5 417.1L552.5 419.7L550.3 423.2L551.4 425.5L549.3 428.7L545.8 431.6L539.3 431.9L536.1 434.2M63.7 328.4L66.4 328.1L74.5 331.0L79.9 333.2L87.9 334.5L93.3 337.4L86.6 342.3L78.5 342.3L77.2 339.0L70.4 338.1L66.4 340.0L63.7 340.3M535.8 388.7L541.7 388.1L546.3 386.8L551.7 386.4L554.9 385.2L553.3 383.9L555.7 380.6L552.0 379.3L551.7 377.4L550.6 375.2L547.4 372.9L545.8 370.0L542.5 369.7L545.2 367.1L546.3 364.5L540.9 364.2L542.5 361.3L537.7 361.3L535.5 364.8L536.1 368.7L537.7 372.2L538.2 373.5L541.7 373.2L543.1 376.8L542.8 378.4L539.0 378.7L539.8 381.6L537.1 383.2L541.7 384.5L539.6 385.5L535.8 388.7M535.0 381.9L534.5 377.7L535.5 373.9L531.5 371.9L528.3 374.2L524.2 375.5L525.0 378.7L525.6 380.6L523.7 383.2L528.3 383.9L535.0 381.9M903.7 440.6L908.0 439.7L914.7 438.7L919.6 438.7L924.7 438.4L927.6 436.8L930.3 435.1L930.9 427.7L933.0 421.9L931.9 417.1L929.0 418.1L927.9 422.9L924.4 428.4L920.1 430.3L919.3 431.6L917.4 434.8L912.0 435.5L908.0 436.1L903.9 439.3L903.7 440.6M929.0 416.1L931.4 413.2L937.1 414.8L943.0 410.6L939.8 408.4L933.6 403.9L932.5 408.4L929.3 411.0L929.0 416.1M901.2 442.2L905.3 441.9L906.1 445.5L903.9 449.7L901.8 449.3L902.1 445.5L900.4 443.2L901.2 442.2M908.0 441.3L913.4 440.0L912.6 442.2L909.3 444.5L908.0 441.3M933.6 375.2L936.3 379.3L937.1 385.8L940.3 392.2L936.3 397.1L934.9 401.3L933.6 397.1L933.6 389.0L933.0 382.6L933.6 375.2M878.4 469.0L879.2 471.3L876.5 479.3L874.9 476.1L877.0 469.7L878.4 469.0M848.7 485.8L850.1 487.4L846.6 491.3L843.9 488.0L848.7 485.8M766.6 519.0L769.8 522.9L771.4 527.7L767.9 530.9L766.1 527.7L766.1 522.9L766.6 519.0M875.7 490.6L880.2 490.9L879.7 497.1L878.4 501.9L881.0 505.1L885.1 506.8L883.7 509.0L881.0 506.8L877.0 506.1L875.7 503.5L874.3 498.7L875.7 490.6M879.7 527.7L883.7 522.9L889.1 519.0L891.8 524.5L890.5 529.3L888.6 530.9L885.1 528.4L883.7 526.1L879.7 527.7M879.7 512.2L882.4 513.2L885.1 514.8L889.1 510.6L889.1 514.8L886.4 518.0L883.2 520.3L881.0 518.0L879.7 515.8L879.7 512.2M867.0 523.5L873.0 513.9L871.6 517.4L868.4 521.9L867.0 523.5M844.7 545.5L848.2 544.8L851.4 542.2L855.5 540.0L859.5 535.8L863.5 529.3L866.2 527.7L870.3 532.6L868.9 535.8L868.4 540.6L871.1 547.1L867.6 548.7L867.0 554.2L864.4 560.0L863.5 563.2L859.5 563.5L855.5 560.6L851.4 560.9L847.9 558.4L847.4 554.5L844.7 549.3L844.7 545.5M807.8 532.2L813.7 533.5L816.4 537.4L820.5 541.3L823.1 543.2L828.5 548.0L830.7 553.5L832.6 556.8L836.6 560.0L836.1 569.0L832.6 568.7L828.5 565.5L824.5 560.0L821.3 553.5L817.8 548.7L816.4 544.5L812.4 539.7L807.8 532.2M834.5 572.2L838.0 569.7L843.3 571.6L849.5 570.9L854.7 572.9L859.5 575.5L859.0 578.4L852.8 577.4L844.7 575.5L838.0 574.2L834.5 572.2M860.9 577.1L866.2 577.1L871.6 577.7L877.0 577.7L882.4 577.1L881.9 578.7L874.3 579.3L866.2 579.3L860.9 578.4L860.9 577.1M883.7 583.5L887.8 579.3L893.7 577.4L891.8 580.0L886.4 583.2L883.7 583.5M873.0 568.0L873.0 561.6L871.1 559.0L873.8 550.9L874.3 547.7L877.0 546.4L882.4 547.4L887.8 545.1L886.4 549.0L882.4 549.0L878.4 549.0L875.7 553.2L878.4 553.5L882.9 552.6L879.7 556.1L878.4 556.8L881.0 561.6L882.4 564.8L880.2 565.8L878.4 563.2L877.0 559.3L875.1 560.0L875.4 568.0L873.0 568.0M894.5 543.8L895.9 547.1L897.7 546.4L895.9 550.3L895.9 552.9L895.1 548.7L894.5 543.8M903.9 552.9L908.0 551.6L912.0 552.9L912.6 558.4L916.1 560.9L921.4 555.8L925.5 556.8L930.9 558.7L940.3 562.6L943.8 567.4L948.4 569.7L947.0 572.2L951.1 577.7L956.5 583.5L953.8 583.8L948.4 581.9L944.3 576.4L940.3 574.8L937.6 577.7L934.9 580.0L930.9 579.7L925.5 576.4L922.8 577.1L922.8 572.9L924.7 571.3L921.4 567.1L916.1 564.5L910.7 562.6L908.8 563.2L906.6 559.3L910.7 558.0L907.2 557.1L903.9 552.9M950.5 568.0L955.1 568.0L960.5 563.8L961.3 566.4L956.5 570.6L951.1 569.7L950.5 568.0M857.4 622.9L858.7 620.6L863.5 617.1L870.3 615.8L877.0 613.5L880.5 608.4L880.5 605.1L884.0 606.4L883.7 602.9L887.8 598.7L891.8 595.5L895.9 598.0L899.9 598.4L900.7 593.8L903.4 590.3L908.0 587.4L908.8 589.7L914.7 589.7L919.6 589.7L917.4 593.8L916.1 598.7L921.4 601.9L926.8 606.7L930.3 606.7L932.2 600.3L932.5 592.2L934.9 585.1L937.6 591.6L938.4 596.7L942.5 598.7L944.3 606.7L945.1 611.3L949.7 614.8L953.8 621.3L957.3 626.1L962.6 631.9L963.7 639.0L964.5 643.8L962.6 651.9L959.1 658.4L955.9 664.8L955.1 670.6L949.7 672.5L945.1 676.1L941.1 673.5L937.6 675.5L930.9 673.2L927.6 669.6L926.8 666.1L923.1 665.1L924.1 661.6L922.3 656.7L920.9 661.6L917.4 662.5L916.1 661.9L913.4 656.7L906.6 653.5L898.6 652.2L890.5 654.5L885.1 657.4L883.7 659.6L874.3 659.6L868.9 663.2L863.5 662.9L860.9 660.9L862.5 655.1L860.9 648.7L858.7 640.6L856.8 634.8L856.8 629.3L857.4 622.9M940.8 681.6L945.7 682.9L950.3 682.2L949.7 687.4L947.6 690.3L944.3 690.6L942.5 687.4L940.8 681.6M1016.2 661.3L1020.5 665.8L1023.8 669.0L1026.5 672.2L1031.3 671.9L1029.2 676.7L1027.8 677.7L1025.9 682.5L1023.0 684.5L1021.9 683.2L1022.4 679.3L1019.2 677.1L1021.4 673.8L1021.6 669.6L1017.0 663.2L1016.2 661.3M1016.2 680.9L1020.3 683.5L1017.0 689.0L1015.7 691.6L1011.7 695.5L1010.3 698.7L1006.3 700.6L1002.2 699.3L999.5 697.1L1003.6 692.9L1009.0 689.0L1012.5 685.8L1014.4 682.5L1016.2 680.9M322.2 479.7L327.6 476.1L334.4 475.8L343.8 480.3L351.3 485.1L347.8 486.1L341.9 486.4L341.1 483.5L335.7 480.3L330.3 478.0L324.9 480.0L322.2 479.7M350.8 490.9L354.6 486.1L358.6 486.1L363.2 488.0L366.9 490.3L362.6 491.6L358.6 493.2L355.1 491.6L350.8 490.9M340.3 491.3L344.3 490.6L345.7 492.2L342.4 492.9L340.3 491.3M370.2 490.9L374.2 490.9L373.9 492.2L370.2 492.2L370.2 490.9M391.5 396.8L393.6 392.2L397.6 385.8L401.7 383.9L400.3 389.0L405.7 390.6L408.4 393.9L408.4 398.7L405.7 399.7L401.7 398.7L397.6 397.1L391.5 396.8M205.6 386.4L211.8 388.1L217.2 392.2L218.8 394.2L214.5 393.2L207.8 389.0L205.6 386.4M335.7 312.6L346.5 315.5L357.2 319.7L366.7 323.5L370.7 327.7L384.2 334.2L382.8 337.4L376.1 339.0L378.8 345.5L373.4 348.7L368.0 345.5L359.9 347.1L354.6 342.3L342.4 342.9L341.1 339.0L351.9 338.1L353.2 332.6L343.8 329.3L338.4 325.2L331.7 324.5L322.2 324.5L312.8 322.9L310.1 319.7L311.5 314.8L319.5 312.3L327.6 312.6L335.7 312.6M236.1 323.9L249.5 329.3L260.3 328.7L271.1 329.3L277.8 326.1L276.5 319.7L268.4 314.8L260.3 314.2L252.2 316.4L241.4 313.9L232.0 315.8L234.7 320.3L236.1 323.9M214.5 318.1L218.6 320.6L225.3 319.7L230.7 316.4L234.7 311.6L225.3 310.0L215.9 311.6L214.5 318.1M311.5 304.2L324.9 303.5L335.7 304.5L341.1 300.3L349.2 295.5L359.9 292.3L373.4 288.1L384.2 284.5L368.0 282.6L341.1 282.3L319.5 285.2L306.1 287.4L316.9 290.6L322.2 293.9L314.2 297.7L311.5 304.2M292.6 305.2L303.4 309.4L319.5 310.0L335.7 309.4L334.4 306.1L319.5 305.8L306.1 303.5L292.6 305.2M292.6 292.3L300.7 298.1L311.5 297.7L316.9 293.9L308.8 290.6L298.0 288.4L292.6 292.3M236.1 305.8L246.8 310.0L260.3 309.0L265.7 305.8L257.6 303.5L244.1 303.5L236.1 305.8M292.6 311.6L300.7 316.4L307.4 313.2L306.1 311.0L298.0 310.6L292.6 311.6M276.5 313.2L284.5 319.7L289.9 316.4L288.6 312.3L281.8 311.6L276.5 313.2M316.9 339.7L323.6 343.9L333.0 345.5L334.4 342.3L326.3 338.4L320.9 338.1L316.9 339.7M580.8 293.9L588.9 298.7L591.5 301.9L596.9 303.2L601.0 300.3L609.1 297.7L601.0 295.5L606.4 292.3L596.9 291.6L586.2 292.9L580.8 293.9M601.0 291.6L610.4 293.9L622.5 293.9L623.9 291.6L610.4 290.6L601.0 291.6M689.8 319.7L695.2 322.3L704.7 322.3L706.0 318.7L700.6 316.4L703.3 311.6L710.0 308.4L720.8 305.2L735.6 302.9L735.6 301.9L726.2 302.9L712.7 304.5L702.0 307.4L697.9 312.3L691.2 316.4L689.8 319.7M807.0 294.8L815.1 296.1L820.5 293.9L831.2 295.5L833.9 297.7L820.5 298.7L812.4 297.1L807.0 294.8M807.0 290.6L812.4 288.4L809.7 291.6L817.8 292.6L820.5 289.7L812.4 288.4M920.1 307.4L928.2 309.0L939.0 308.4L944.3 306.8L933.6 304.5L922.8 305.2L920.1 307.4M947.0 307.4L956.5 308.4L957.8 309.4L949.7 309.0L947.0 307.4M677.7 291.6L685.8 292.6L693.9 291.6L704.7 292.3L712.7 290.6L718.1 289.4L707.3 288.1L699.3 289.0L685.8 290.0L677.7 290.6L677.7 291.6M1031.9 321.0L1037.2 321.6L1038.6 320.3L1033.2 319.7L1031.9 321.0M62.4 321.0L67.7 321.6L73.1 321.0L71.8 319.7L66.4 319.7L62.4 321.0M681.2 326.8L684.5 328.4L685.8 327.1L683.1 326.1L681.2 326.8M584.8 427.7L592.9 427.1L592.1 431.9L584.8 429.0L584.8 427.7M573.2 418.1L577.0 418.1L577.0 423.9L574.0 424.5L573.2 418.1M574.3 413.2L576.7 411.6L576.5 416.4L574.8 416.4L574.3 413.2M614.4 435.8L622.0 436.8L617.1 437.4L614.4 436.4L614.4 435.8M638.1 437.4L644.1 435.5L642.4 437.4L640.0 438.7L638.1 437.4M677.7 405.1L683.1 400.3L689.8 398.7L693.9 400.3L693.9 405.1L688.5 406.8L686.6 411.6L692.5 414.8L693.9 418.1L693.3 422.9L696.6 424.5L696.0 431.0L691.2 431.9L685.8 429.7L683.1 426.1L683.9 420.3L680.4 414.8L677.7 410.0L677.7 405.1M708.7 403.5L712.7 400.3L716.8 401.9L715.4 406.8L710.0 408.4L708.7 403.5M750.4 405.1L753.1 400.3L758.5 400.0L763.9 399.7L762.6 401.3L755.8 401.9L751.8 405.8L750.4 405.1M831.2 383.9L836.6 381.6L842.0 377.7L846.0 371.3L847.4 370.6L844.7 376.1L840.7 380.0L835.3 383.5L831.2 383.9M303.4 399.7L308.8 396.1L314.2 392.9L319.5 393.2L323.0 397.1L323.6 400.3L318.2 400.3L314.2 398.7L308.8 399.7L303.4 399.7M314.7 415.8L314.2 408.4L316.9 402.6L320.9 401.9L322.2 403.5L318.7 408.4L318.2 413.2L316.9 415.8L314.7 415.8M323.6 401.9L331.7 401.9L335.7 405.8L331.7 406.8L331.1 411.0L329.0 411.6L326.3 408.4L326.8 404.5L323.6 401.9M326.8 415.5L333.0 416.1L338.4 412.6L337.1 411.6L331.7 412.6L326.8 414.8L326.8 415.5M336.5 410.6L343.8 410.6L345.9 408.4L342.4 408.4L336.5 409.3L336.5 410.6M284.5 376.8L289.9 387.4L291.8 386.4L288.6 377.7L284.5 376.8M214.5 337.4L225.3 340.6L233.4 339.0L233.4 334.8L225.3 334.2L217.2 335.8L214.5 337.4M236.1 353.5L244.1 353.5L252.2 347.7L257.6 348.1L249.5 352.6L241.4 354.2L236.1 353.5M636.5 549.3L642.7 549.7L642.7 554.5L640.0 558.4L637.3 557.7L636.5 549.3M135.1 365.5L140.5 362.6L141.0 364.8L137.8 366.8L135.1 365.5M193.0 376.1L196.2 376.8L197.8 381.6L194.3 379.3L193.0 376.1M89.3 345.5L96.0 346.4L94.7 347.1L89.3 346.1L89.3 345.5M101.4 356.1L104.9 356.1L104.1 357.4L101.4 356.8L101.4 356.1M736.4 708.4L741.0 708.7L740.2 710.3L737.0 710.3L736.4 708.4M448.8 724.5L454.2 725.4L454.2 727.1L448.8 725.4L448.8 724.5M992.8 615.5L999.5 620.0L1000.9 622.2L995.5 619.3L992.8 615.5M131.0 485.1L133.7 486.4L133.7 488.4L131.6 489.0L131.0 486.8L131.0 485.1M129.1 482.6L131.0 482.9L130.2 483.9L129.1 482.6M125.1 480.6L126.5 481.3L125.6 481.6L125.1 480.6M121.1 478.7L122.1 479.0L121.6 479.7L121.1 478.7M1028.6 606.7L1032.1 607.1L1031.9 609.0L1028.9 608.7L1028.6 606.7M1032.7 603.8L1035.9 602.9L1034.6 604.8L1032.7 603.8M999.8 598.7L1001.4 600.3L1002.2 603.5L1000.9 601.3L999.8 598.7M972.6 571.9L976.7 574.5L982.0 579.3L986.1 583.2L983.4 581.3L978.0 576.7L972.6 571.9M967.5 568.0L970.7 571.3L969.9 572.6L967.8 569.7L967.5 568.0M957.3 558.7L961.8 562.6L963.2 565.5L960.5 562.6L957.3 559.3L957.3 558.7M694.7 509.7L697.9 510.0L696.6 510.6L694.7 509.7M656.7 569.0L657.5 570.3L657.0 570.9L656.7 569.0M700.1 617.7L701.4 618.4L700.6 619.3L700.1 617.7M705.7 614.8L706.8 615.5L706.0 616.4L705.7 614.8M304.7 551.3L306.6 552.2L305.5 553.5L304.7 551.3M505.6 458.7L507.8 458.4L506.4 460.0L505.6 458.7M512.6 458.0L514.8 456.1L513.7 459.3L512.6 458.0M508.6 459.7L509.7 459.7L509.1 460.6L508.6 459.7M944.3 406.8L951.1 403.5L949.7 404.5L944.3 406.8M602.3 310.3L602.9 310.0L602.3 310.0M527.5 321.6L529.6 321.0L529.1 321.3L527.5 321.6M531.2 349.7L533.6 349.3L532.8 351.0L531.2 349.7M547.1 355.2L548.5 354.8L547.9 356.8L547.1 355.2M107.3 374.2L111.4 373.5L110.8 372.9L107.3 373.2L107.3 374.2M101.4 378.1L103.6 376.4L102.5 376.1L100.9 377.4L101.4 378.1M96.6 379.3L99.0 378.1L98.4 377.7L96.3 379.0M93.3 380.3L94.7 379.7M86.1 381.6L87.9 381.3M80.4 382.2L82.6 381.6L82.0 381.3L80.1 381.9M74.7 383.5L76.4 382.9L75.6 382.6L74.5 383.2M71.2 383.5L72.9 382.9M1015.7 379.7L1017.9 379.7M1028.6 382.9L1030.0 382.6M997.4 371.9L999.5 373.5M955.1 401.3L957.3 399.3M960.5 398.1L962.1 396.4M965.3 393.2L966.7 391.6M969.4 389.0L971.8 386.8L970.7 386.4L969.1 388.4M947.0 405.8L949.2 404.5M895.1 466.1L896.7 463.9M899.4 459.3L900.4 458.4M902.3 452.6L903.1 451.9M885.4 471.6L886.2 471.3M147.9 607.5L149.2 607.5L149.2 606.7L147.9 606.7M173.4 579.7L174.8 579.7L174.8 578.9L173.4 578.9M176.1 582.3L177.5 582.3L177.5 581.5L176.1 581.5M86.5 594.9L87.8 594.9L87.8 594.1L86.5 594.1M88.6 595.5L90.0 595.5L90.0 594.7L88.6 594.7M78.7 619.1L80.0 619.1L80.0 618.3L78.7 618.3M81.9 611.0L83.2 611.0L83.2 610.2L81.9 610.2M120.1 619.1L121.5 619.1L121.5 618.3L120.1 618.3M126.6 544.6L127.9 544.6L127.9 543.8L126.6 543.8M121.5 538.1L122.8 538.1L122.8 537.3L121.5 537.3M940.4 507.5L941.8 507.5L941.8 506.7L940.4 506.7M942.9 501.7L944.2 501.7L944.2 500.9L942.9 500.9M976.5 528.4L977.9 528.4L977.9 527.7L976.5 527.7M959.3 526.8L960.6 526.8L960.6 526.0L959.3 526.0M912.7 526.5L914.0 526.5L914.0 525.7L912.7 525.7M922.4 520.0L923.7 520.0L923.7 519.3L922.4 519.3M989.4 533.6L990.8 533.6L990.8 532.8L989.4 532.8M1011.5 527.8L1012.9 527.8L1012.9 527.0L1011.5 527.0M1016.4 546.2L1017.7 546.2L1017.7 545.4L1016.4 545.4M999.9 552.3L1001.3 552.3L1001.3 551.5L999.9 551.5M1033.1 578.1L1034.4 578.1L1034.4 577.3L1033.1 577.3M255.9 638.1L257.2 638.1L257.2 637.3L255.9 637.3M200.1 631.6L201.5 631.6L201.5 630.9L200.1 630.9M160.0 600.7L161.3 600.7L161.3 599.9L160.0 599.9M166.7 605.5L168.1 605.5L168.1 604.7L166.7 604.7M172.1 610.4L173.4 610.4L173.4 609.6L172.1 609.6M154.6 599.1L155.9 599.1L155.9 598.3L154.6 598.3M186.9 625.2L188.3 625.2L188.3 624.4L186.9 624.4M147.9 626.2L149.2 626.2L149.2 625.4L147.9 625.4M142.7 623.3L144.1 623.3L144.1 622.5L142.7 622.5M125.2 615.2L126.6 615.2L126.6 614.4L125.2 614.4M475.1 426.5L476.4 426.5L476.4 425.7L475.1 425.7M481.8 428.8L483.2 428.8L483.2 428.0L481.8 428.0M466.7 423.3L468.1 423.3L468.1 422.5L466.7 422.5M477.2 425.9L478.6 425.9L478.6 425.1L477.2 425.1M504.7 445.2L506.0 445.2L506.0 444.4L504.7 444.4M486.9 502.3L488.3 502.3L488.3 501.5L486.9 501.5M485.0 497.1L486.4 497.1L486.4 496.4L485.0 496.4M488.5 498.8L489.9 498.8L489.9 498.0L488.5 498.0M482.9 495.9L484.2 495.9L484.2 495.1L482.9 495.1M484.8 502.6L486.1 502.6L486.1 501.9L484.8 501.9M376.0 446.5L377.3 446.5L377.3 445.7L376.0 445.7M511.7 576.2L513.0 576.2L513.0 575.4L511.7 575.4M535.1 602.3L536.5 602.3L536.5 601.5L535.1 601.5M517.4 670.4L518.7 670.4L518.7 669.6L517.4 669.6M523.8 680.7L525.2 680.7L525.2 679.9L523.8 679.9M559.6 726.2L561.0 726.2L561.0 725.4L559.6 725.4M479.1 737.1L480.5 737.1L480.5 736.4L479.1 736.4M477.2 732.3L478.6 732.3L478.6 731.5L477.2 731.5M427.9 746.2L429.3 746.2L429.3 745.4L427.9 745.4M391.6 751.0L392.9 751.0L392.9 750.2L391.6 750.2M386.7 752.9L388.1 752.9L388.1 752.2L386.7 752.2M394.8 750.3L396.2 750.3L396.2 749.6L394.8 749.6M401.6 748.1L402.9 748.1L402.9 747.3L401.6 747.3M689.7 700.4L691.1 700.4L691.1 699.6L689.7 699.6M652.3 701.6L653.6 701.6L653.6 700.9L652.3 700.9M748.4 722.0L749.8 722.0L749.8 721.2L748.4 721.2M759.2 672.6L760.5 672.6L760.5 671.8L759.2 671.8M748.4 537.8L749.8 537.8L749.8 537.0L748.4 537.0M747.6 547.5L749.0 547.5L749.0 546.7L747.6 546.7M747.1 529.7L748.4 529.7L748.4 528.9L747.1 528.9M748.1 542.6L749.5 542.6L749.5 541.8L748.1 541.8M747.9 533.9L749.2 533.9L749.2 533.1L747.9 533.1M747.3 552.3L748.7 552.3L748.7 551.5L747.3 551.5M746.3 515.9L747.6 515.9L747.6 515.1L746.3 515.1M747.1 523.9L748.4 523.9L748.4 523.1L747.1 523.1M800.4 512.6L801.7 512.6L801.7 511.9L800.4 511.9M800.7 508.1L802.0 508.1L802.0 507.3L800.7 507.3M800.1 510.4L801.5 510.4L801.5 509.6L800.1 509.6M803.1 527.8L804.4 527.8L804.4 527.0L803.1 527.0M800.9 522.0L802.3 522.0L802.3 521.2L800.9 521.2M745.5 574.2L746.8 574.2L746.8 573.5L745.5 573.5M699.9 565.5L701.3 565.5L701.3 564.8L699.9 564.8M667.4 588.4L668.7 588.4L668.7 587.7L667.4 587.7M670.0 590.0L671.4 590.0L671.4 589.3L670.0 589.3M672.2 592.0L673.5 592.0L673.5 591.2L672.2 591.2M978.4 726.8L979.7 726.8L979.7 726.0L978.4 726.0M1005.9 720.0L1007.2 720.0L1007.2 719.3L1005.9 719.3M997.8 714.2L999.1 714.2L999.1 713.4L997.8 713.4M75.2 692.6L76.5 692.6L76.5 691.8L75.2 691.8M1002.9 644.2L1004.3 644.2L1004.3 643.5L1002.9 643.5M978.9 652.3L980.3 652.3L980.3 651.5L978.9 651.5M71.4 645.2L72.7 645.2L72.7 644.4L71.4 644.4M76.0 593.6L77.3 593.6L77.3 592.8L76.0 592.8M92.9 612.0L94.3 612.0L94.3 611.2L92.9 611.2M1001.6 618.4L1002.9 618.4L1002.9 617.6L1001.6 617.6M1002.9 620.0L1004.3 620.0L1004.3 619.3L1002.9 619.3M997.0 585.2L998.3 585.2L998.3 584.4L997.0 584.4M1003.7 607.8L1005.1 607.8L1005.1 607.0L1003.7 607.0M1006.4 613.6L1007.8 613.6L1007.8 612.8L1006.4 612.8M1000.2 596.8L1001.6 596.8L1001.6 596.0L1000.2 596.0M1001.6 595.2L1002.9 595.2L1002.9 594.4L1001.6 594.4M946.4 557.5L947.7 557.5L947.7 556.7L946.4 556.7M916.7 553.9L918.1 553.9L918.1 553.1L916.7 553.1M899.2 560.7L900.6 560.7L900.6 559.9L899.2 559.9M891.4 561.7L892.8 561.7L892.8 560.9L891.4 560.9M873.6 582.0L875.0 582.0L875.0 581.2L873.6 581.2M877.7 578.4L879.0 578.4L879.0 577.7L877.7 577.7M860.7 577.8L862.1 577.8L862.1 577.0L860.7 577.0M835.9 557.8L837.3 557.8L837.3 557.0L835.9 557.0M813.3 547.1L814.7 547.1L814.7 546.4L813.3 546.4M816.8 555.2L818.2 555.2L818.2 554.4L816.8 554.4M834.9 584.6L836.2 584.6L836.2 583.8L834.9 583.8M811.2 590.0L812.5 590.0L812.5 589.3L811.2 589.3M691.1 511.3L692.4 511.3L692.4 510.6L691.1 510.6M385.4 517.1L386.7 517.1L386.7 516.4L385.4 516.4M384.9 498.4L386.2 498.4L386.2 497.7L384.9 497.7M386.2 503.6L387.5 503.6L387.5 502.8L386.2 502.8M390.2 508.1L391.6 508.1L391.6 507.3L390.2 507.3M386.2 505.9L387.5 505.9L387.5 505.1L386.2 505.1M385.4 501.0L386.7 501.0L386.7 500.2L385.4 500.2M384.0 495.5L385.4 495.5L385.4 494.8L384.0 494.8M341.0 472.3L342.3 472.3L342.3 471.5L341.0 471.5M342.3 465.2L343.7 465.2L343.7 464.4L342.3 464.4M345.3 471.0L346.6 471.0L346.6 470.2L345.3 470.2M347.2 472.6L348.5 472.6L348.5 471.9L347.2 471.9M352.0 477.5L353.3 477.5L353.3 476.7L352.0 476.7M339.6 464.9L341.0 464.9L341.0 464.1L339.6 464.1M357.1 480.4L358.5 480.4L358.5 479.6L357.1 479.6M331.8 488.4L333.1 488.4L333.1 487.7L331.8 487.7M316.5 484.9L317.8 484.9L317.8 484.1L316.5 484.1M307.3 552.6L308.6 552.6L308.6 551.8L307.3 551.8M309.4 553.6L310.8 553.6L310.8 552.8L309.4 552.8M338.3 659.1L339.6 659.1L339.6 658.3L338.3 658.3M334.8 635.5L336.1 635.5L336.1 634.7L334.8 634.7M251.5 490.0L252.9 490.0L252.9 489.3L251.5 489.3M256.4 517.5L257.7 517.5L257.7 516.7L256.4 516.7M316.2 532.9L317.5 532.9L317.5 532.2L316.2 532.2M330.7 537.8L332.1 537.8L332.1 537.0L330.7 537.0M463.2 563.1L464.6 563.1L464.6 562.3L463.2 562.3M471.6 616.8L472.9 616.8L472.9 616.0L471.6 616.0M568.3 549.7L569.6 549.7L569.6 548.9L568.3 548.9M570.4 545.5L571.8 545.5L571.8 544.8L570.4 544.8M573.9 539.4L575.3 539.4L575.3 538.6L573.9 538.6M565.6 555.2L566.9 555.2L566.9 554.4L565.6 554.4M657.7 567.5L659.0 567.5L659.0 566.7L657.7 566.7M657.7 576.2L659.0 576.2L659.0 575.4L657.7 575.4M891.1 443.0L892.5 443.0L892.5 442.2L891.1 442.2M898.7 439.7L900.0 439.7L900.0 439.0L898.7 439.0M923.2 428.1L924.5 428.1L924.5 427.3L923.2 427.3M909.2 433.9L910.5 433.9L910.5 433.1L909.2 433.1M903.0 429.7L904.3 429.7L904.3 429.0L903.0 429.0M600.3 365.2L601.6 365.2L601.6 364.4L600.3 364.4M595.5 367.8L596.8 367.8L596.8 367.0L595.5 367.0M611.1 362.3L612.4 362.3L612.4 361.5L611.1 361.5M611.6 360.7L613.0 360.7L613.0 359.9L611.6 359.9M590.6 373.0L591.9 373.0L591.9 372.2L590.6 372.2M604.3 356.5L605.7 356.5L605.7 355.7L604.3 355.7M558.6 423.0L559.9 423.0L559.9 422.2L558.6 422.2M561.5 421.7L562.9 421.7L562.9 420.9L561.5 420.9M554.2 424.9L555.6 424.9L555.6 424.1L554.2 424.1M589.3 434.9L590.6 434.9L590.6 434.1L589.3 434.1M625.9 433.9L627.2 433.9L627.2 433.1L625.9 433.1M621.3 424.2L622.7 424.2L622.7 423.5L621.3 423.5M614.6 426.2L615.9 426.2L615.9 425.4L614.6 425.4M603.8 423.0L605.1 423.0L605.1 422.2L603.8 422.2M606.0 427.5L607.3 427.5L607.3 426.7L606.0 426.7M601.6 310.7L603.0 310.7L603.0 309.9L601.6 309.9M617.8 303.9L619.1 303.9L619.1 303.2L617.8 303.2M638.0 292.3L639.3 292.3L639.3 291.5L638.0 291.5M757.8 294.3L759.2 294.3L759.2 293.5L757.8 293.5M764.6 290.1L765.9 290.1L765.9 289.3L764.6 289.3M951.7 303.3L953.1 303.3L953.1 302.5L951.7 302.5M77.6 320.4L78.9 320.4L78.9 319.6L77.6 319.6M85.4 355.9L86.7 355.9L86.7 355.1L85.4 355.1M91.8 366.2L93.2 366.2L93.2 365.4L91.8 365.4M93.7 368.1L95.1 368.1L95.1 367.3L93.7 367.3M95.4 338.4L96.7 338.4L96.7 337.7L95.4 337.7M938.3 679.4L939.6 679.4L939.6 678.6L938.3 678.6M949.0 679.7L950.4 679.7L950.4 678.9L949.0 678.9M920.0 666.2L921.3 666.2L921.3 665.4L920.0 665.4M903.3 587.8L904.6 587.8L904.6 587.0L903.3 587.0M918.3 595.8L919.7 595.8L919.7 595.1L918.3 595.1M963.1 632.0L964.4 632.0L964.4 631.2L963.1 631.2M1002.6 702.3L1004.0 702.3L1004.0 701.5L1002.6 701.5M219.9 305.2L230.7 305.5L238.8 301.9L233.4 300.3L222.6 302.6L219.9 305.2M271.1 306.8L281.8 308.4L288.6 305.8L284.5 302.9L273.8 303.5L271.1 306.8M291.3 307.1L296.7 309.4L300.7 307.7L296.7 306.4L291.3 307.1M283.2 327.7L289.9 329.3L294.0 327.1L291.3 324.5L285.9 325.2L283.2 327.7M268.4 297.1L281.8 299.4L285.9 296.1L276.5 294.5L268.4 297.1M288.6 296.4L296.7 299.4L299.3 297.1L292.6 295.5L288.6 296.4M244.1 299.7L254.9 301.3L254.9 298.7L246.8 298.1L244.1 299.7M245.5 297.1L254.9 297.7L253.6 296.1L246.8 295.8L245.5 297.1M327.6 347.7L333.0 349.3L335.7 348.1L330.3 347.1L327.6 347.7M334.4 350.3L337.1 351.3L337.1 349.3L334.4 350.3M330.3 379.0L333.0 380.0L334.4 379.0L331.7 378.4L330.3 379.0M335.7 368.7L338.4 369.7L337.9 367.1L335.7 368.7M377.4 389.3L382.8 391.6L385.0 391.9L381.5 389.7L377.4 389.3M378.3 399.3L381.5 401.3L384.2 400.6L380.1 400.0L378.3 399.3M385.5 403.2L388.8 402.9L388.8 398.7L385.8 401.3L385.5 403.2M351.9 419.3L357.2 418.4L357.2 417.7L352.7 418.4L351.9 419.3M342.4 331.6L347.8 333.2L349.2 331.0L343.8 330.3L342.4 331.6M374.8 351.9L377.4 352.6L376.6 351.0L374.8 351.9M403.6 325.8L411.1 326.4L411.1 323.9L405.7 323.5L403.6 325.8M191.6 368.7L195.1 372.9L193.5 373.5L190.8 371.0L191.6 368.7M183.5 363.2L187.6 365.5L188.1 363.9L184.9 362.3L183.5 363.2M186.2 365.5L188.4 369.0L187.9 367.1L186.2 365.5M188.1 362.6L190.3 365.8L189.7 363.2L188.1 362.6M708.7 323.5L711.4 325.5L714.1 324.5L711.4 322.9L708.7 323.5M739.7 313.2L743.7 314.8L742.4 313.2L739.7 313.2M928.2 312.9L936.3 314.2L937.6 312.9L930.9 311.9L928.2 312.9M991.5 359.3L994.2 361.6L993.3 360.0L991.5 359.3M920.9 372.2L923.6 373.9L923.3 372.2L920.9 372.2M275.1 299.4L280.5 300.0L279.2 298.7L275.1 299.4M265.7 301.0L269.7 301.9L269.7 300.0L265.7 301.0M264.3 313.2L268.4 314.8L268.9 312.9L264.3 313.2M339.7 346.1L342.2 346.8L341.6 345.5L339.7 346.1M229.3 305.8L234.7 306.8L233.4 305.2L229.3 305.8M267.0 307.7L271.9 308.4L271.1 306.8L267.0 307.7M40.0 803.0L67.6 803.0L105.8 803.7L124.0 800.0L151.7 796.3L157.8 794.0L182.0 790.8L212.8 787.2L231.0 788.4L255.6 790.2L274.0 791.4L278.5 788.4L274.0 784.7L292.0 782.6L316.7 784.0L341.0 785.3L353.0 787.2L358.0 784.7L347.0 778.6L353.0 775.0L365.6 771.9L377.8 763.3L386.0 759.5L389.0 762.0L386.5 767.0L387.6 778.6L386.0 790.8L398.0 795.4L416.7 800.0L435.0 802.4L456.4 800.0L477.8 793.9L499.0 784.7L517.5 779.2L539.0 776.0L551.0 773.0L554.0 775.6L569.4 776.5L587.8 775.0L606.0 776.5L624.4 775.6L639.7 772.0L655.0 775.0L673.0 768.8L685.6 764.9L697.8 762.7L710.0 765.0L719.0 767.0L741.0 770.3L752.0 774.4L769.3 765.6L788.0 765.0L807.0 764.0L826.0 761.8L844.8 765.6L863.7 763.0L882.6 765.0L901.5 763.0L920.4 764.0L945.6 768.0L967.6 772.5L1002.0 779.7L1010.0 782.0L1007.0 789.2L992.8 792.3L989.7 798.6L996.0 800.2L1035.3 802.7L1060.0 803.0" fill="none" stroke="#000" stroke-width="1.2" stroke-linejoin="round" stroke-linecap="round"/>
</g>
<rect x="66.4" y="260.0" width="969.5" height="580.6" fill="none" stroke="#3c3c3c" stroke-width="1.5"/>
<line x1="62.4" y1="260.0" x2="66.4" y2="260.0" stroke="#aaa" stroke-width="1"/>
<line x1="62.4" y1="356.8" x2="66.4" y2="356.8" stroke="#aaa" stroke-width="1"/>
<line x1="62.4" y1="453.5" x2="66.4" y2="453.5" stroke="#aaa" stroke-width="1"/>
<line x1="62.4" y1="550.3" x2="66.4" y2="550.3" stroke="#aaa" stroke-width="1"/>
<line x1="62.4" y1="647.1" x2="66.4" y2="647.1" stroke="#aaa" stroke-width="1"/>
<line x1="62.4" y1="743.8" x2="66.4" y2="743.8" stroke="#aaa" stroke-width="1"/>
<line x1="62.4" y1="840.6" x2="66.4" y2="840.6" stroke="#aaa" stroke-width="1"/>
<line x1="66.4" y1="840.6" x2="66.4" y2="844.6" stroke="#aaa" stroke-width="1"/>
<line x1="187.6" y1="840.6" x2="187.6" y2="844.6" stroke="#aaa" stroke-width="1"/>
<line x1="308.8" y1="840.6" x2="308.8" y2="844.6" stroke="#aaa" stroke-width="1"/>
<line x1="430.0" y1="840.6" x2="430.0" y2="844.6" stroke="#aaa" stroke-width="1"/>
<line x1="551.2" y1="840.6" x2="551.2" y2="844.6" stroke="#aaa" stroke-width="1"/>
<line x1="672.3" y1="840.6" x2="672.3" y2="844.6" stroke="#aaa" stroke-width="1"/>
<line x1="793.5" y1="840.6" x2="793.5" y2="844.6" stroke="#aaa" stroke-width="1"/>
<line x1="914.7" y1="840.6" x2="914.7" y2="844.6" stroke="#aaa" stroke-width="1"/>
<line x1="1035.9" y1="840.6" x2="1035.9" y2="844.6" stroke="#aaa" stroke-width="1"/>
<rect x="69.40" y="877" width="28.64" height="18" fill="#ffeef2"/>
<rect x="97.74" y="877" width="28.64" height="18" fill="#ead5ee"/>
<rect x="126.07" y="877" width="28.64" height="18" fill="#d8bfea"/>
<rect x="154.41" y="877" width="28.64" height="18" fill="#c5a7e5"/>
<rect x="182.74" y="877" width="28.64" height="18" fill="#b08ee0"/>
<rect x="211.08" y="877" width="28.64" height="18" fill="#7f6dc8"/>
<rect x="239.41" y="877" width="28.64" height="18" fill="#5c54b5"/>
<rect x="267.75" y="877" width="28.64" height="18" fill="#3c3ca6"/>
<rect x="296.08" y="877" width="28.64" height="18" fill="#101e8e"/>
<rect x="324.42" y="877" width="28.64" height="18" fill="#3c55b4"/>
<rect x="352.75" y="877" width="28.64" height="18" fill="#6490d6"/>
<rect x="381.09" y="877" width="28.64" height="18" fill="#8ec8f8"/>
<rect x="409.42" y="877" width="28.64" height="18" fill="#a6d5f9"/>
<rect x="437.76" y="877" width="28.64" height="18" fill="#bcdffa"/>
<rect x="466.09" y="877" width="28.64" height="18" fill="#d3e9fc"/>
<rect x="494.43" y="877" width="28.64" height="18" fill="#e9f4fe"/>
<rect x="522.76" y="877" width="28.64" height="18" fill="#ffffff"/>
<rect x="551.10" y="877" width="28.64" height="18" fill="#ffffff"/>
<rect x="579.44" y="877" width="28.64" height="18" fill="#fee6d4"/>
<rect x="607.77" y="877" width="28.64" height="18" fill="#fdcfa0"/>
<rect x="636.11" y="877" width="28.64" height="18" fill="#fdb46e"/>
<rect x="664.44" y="877" width="28.64" height="18" fill="#fc9c45"/>
<rect x="692.78" y="877" width="28.64" height="18" fill="#fd8204"/>
<rect x="721.11" y="877" width="28.64" height="18" fill="#cc5500"/>
<rect x="749.45" y="877" width="28.64" height="18" fill="#a02c00"/>
<rect x="777.78" y="877" width="28.64" height="18" fill="#780000"/>
<rect x="806.12" y="877" width="28.64" height="18" fill="#9a0000"/>
<rect x="834.45" y="877" width="28.64" height="18" fill="#b90000"/>
<rect x="862.79" y="877" width="28.64" height="18" fill="#d80000"/>
<rect x="891.12" y="877" width="28.64" height="18" fill="#ff0000"/>
<rect x="919.46" y="877" width="28.64" height="18" fill="#ff7066"/>
<rect x="947.79" y="877" width="28.64" height="18" fill="#ffa89c"/>
<rect x="976.13" y="877" width="28.64" height="18" fill="#ffdcc8"/>
<rect x="1004.46" y="877" width="28.34" height="18" fill="#ffeeee"/>
<rect x="69.4" y="876.8" width="963.4" height="18.4" fill="none" stroke="#ccc" stroke-width="1"/>
</svg>
<div id="foot"><svg width="64" height="64" style="left:26px;top:17.3px" viewBox="0 0 64 64">
<defs>
<clipPath id="ic"><rect width="64" height="64" rx="14.5" ry="14.5"/></clipPath>
<linearGradient id="sky" x1="0" y1="0" x2="0" y2="1"><stop offset="0" stop-color="#55bdfb"/><stop offset="0.45" stop-color="#3aa6f7"/><stop offset="0.8" stop-color="#2389ee"/></linearGradient>
<radialGradient id="glow" cx="0.52" cy="0.27" r="0.42"><stop offset="0" stop-color="#c8efff" stop-opacity="0.85"/><stop offset="1" stop-color="#7fd0ff" stop-opacity="0"/></radialGradient>
<linearGradient id="sun" x1="0.2" y1="0" x2="0.8" y2="1"><stop offset="0" stop-color="#ffe63a"/><stop offset="1" stop-color="#ffb912"/></linearGradient>
<linearGradient id="cl" x1="0" y1="0" x2="0" y2="1"><stop offset="0" stop-color="#ffffff"/><stop offset="1" stop-color="#a9defc"/></linearGradient>
<linearGradient id="sea" x1="0" y1="0" x2="0" y2="1"><stop offset="0" stop-color="#8fe0f8"/><stop offset="0.25" stop-color="#62c6f4"/><stop offset="1" stop-color="#39a4ec"/></linearGradient>
<linearGradient id="hill" x1="0" y1="0" x2="1" y2="1"><stop offset="0" stop-color="#72d86a"/><stop offset="1" stop-color="#35b37f"/></linearGradient>
</defs>
<g clip-path="url(#ic)">
<rect width="64" height="64" fill="url(#sky)"/>
<rect width="64" height="64" fill="url(#glow)"/>
<path d="M0 46 L8 44.8 L16 46 L24 44.5 L33 45.6 L40 44.6 L40 49 L0 49Z" fill="#2b86e6" opacity="0.55"/>
<rect x="0" y="48.2" width="46" height="16" fill="url(#sea)"/>
<path d="M49 23.5 q0.5-2.2 2.8-2 q1.2-2 3.3-1 q2.2-1 2.8 1.2 q2.6 0 3 2.2 q0 0.9-1 0.9 h-10 q-1 0-0.9-1.3z" fill="#d6f0ff" opacity="0.85"/>
<path d="M58.5 17.6 q1-2 3-1.6 q1.5-1.2 2.8-0.2 v2.4 h-5.4z" fill="#d6f0ff" opacity="0.8"/>
<path d="M0.5 40.2 q0.8-2 2.8-1.6 q1.8-1 2.8 0.6 q1.6 0 1.6 1.2 q0 0.5-0.8 0.5 h-6z" fill="#9fd6ff" opacity="0.45"/>
<circle cx="32.3" cy="16.6" r="8.8" fill="url(#sun)"/>
<g stroke="#dff3ff" stroke-width="1.25" stroke-linecap="round" opacity="0.85">
<line x1="14.4" y1="34" x2="12.8" y2="38.2"/><line x1="18.2" y1="34" x2="17" y2="37"/><line x1="21.6" y1="34" x2="18.8" y2="41.5"/><line x1="26" y1="34" x2="24.4" y2="38.2"/><line x1="29.4" y1="34" x2="26.6" y2="41.5"/><line x1="32.8" y1="34" x2="31.4" y2="37.6"/>
</g>
<path d="M9.6 32.6 a4.7 4.7 0 0 1 -0.4 -9.4 q0.8 0 1.4 0.2 a7.4 7.4 0 0 1 14.3 -2.6 a5.8 5.8 0 0 1 10.2 2.4 a4.9 4.9 0 0 1 2.2 9.4 z" fill="url(#cl)"/>
<path d="M4 64 L4 62.8 Q14 60 22.5 57 T39 52.8 Q43 51.4 47 53 T58 52 Q61 50.6 64 50 L64 64Z" fill="url(#hill)"/>
<path d="M20 64 Q34 56 46 56 T64 58 L64 64Z" fill="#4cc474" opacity="0.7"/>
<path d="M43.6 43.9 L48.8 37.2 L55.7 44.1 L55.7 53.9 L43.6 53Z" fill="#ffffff"/>
<path d="M55.7 44.1 L64 44.5 L64 51.6 L55.7 53.9Z" fill="#e9e6ea"/>
<path d="M48.6 35.75 L64 35.75 L64 44.6 L56.4 44.6Z" fill="#8a6a62"/>
<path d="M40.7 43.9 L48.6 35.75 L49.8 37 L42.2 44.8Z" fill="#9c7c72"/>
<rect x="47.8" y="48.7" width="4.1" height="6.6" fill="#dca46c"/>
<rect x="48.2" y="42.3" width="2.9" height="3" fill="#6aaef0"/>
<path d="M40 53.5 q2-1.8 4-0.6 q1.2-0.8 2 0.4 v1.6 h-6z" fill="#5fd070"/>
<path d="M52.5 54.6 q2-2.4 4.4-1.4 q1.5-1.6 3.3-0.4 q1.6-1 3.8-0.4 v3 h-11.5z" fill="#58cb72"/>
</g></svg><span class="fw" style="left:118.50px;top:28.08px;letter-spacing:1.034px">Weather</span><span class="fw" style="left:289.00px;top:28.08px;letter-spacing:0.400px">and</span><span class="fw" style="left:367.50px;top:28.08px;letter-spacing:1.334px">Climate</span><span class="fw" style="left:522.50px;top:28.08px;letter-spacing:1.067px">Tracker</span></div>
</body></html>
